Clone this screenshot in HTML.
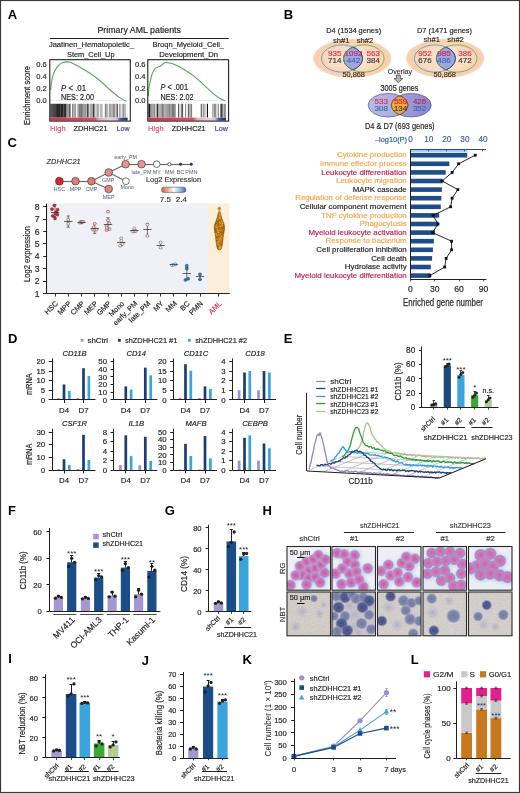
<!DOCTYPE html><html><head><meta charset="utf-8"><title>Figure</title><style>html,body{margin:0;padding:0;background:#fff;width:520px;height:793px;overflow:hidden}svg{display:block;font-family:"Liberation Sans",sans-serif}</style></head><body><svg width="520" height="793" viewBox="0 0 520 793" font-family='"Liberation Sans", sans-serif' fill="#231f20"><g style="will-change:transform"><text x="7.7" y="18.8" font-size="13" fill="#000" font-weight="bold">A</text>
<text x="139.2" y="33.2" font-size="8.6" text-anchor="middle" stroke="#231f20" stroke-width="0.18" textLength="83.6" lengthAdjust="spacingAndGlyphs">Primary AML patients</text>
<line x1="50" y1="38.5" x2="228.8" y2="38.5" stroke="#231f20" stroke-width="1.2" />
<text x="91.4" y="47.2" font-size="7.4" text-anchor="middle" fill="#262626" stroke="#262626" stroke-width="0.18" textLength="85" lengthAdjust="spacingAndGlyphs">Jaatinen_Hematopoietic_</text>
<text x="90.8" y="56.7" font-size="7.4" text-anchor="middle" fill="#262626" stroke="#262626" stroke-width="0.18" textLength="47.5" lengthAdjust="spacingAndGlyphs">Stem_Cell_Up</text>
<text x="188.3" y="47.2" font-size="7.4" text-anchor="middle" fill="#262626" stroke="#262626" stroke-width="0.18" textLength="71.5" lengthAdjust="spacingAndGlyphs">Broqn_Myeloid_Cell_</text>
<text x="188.6" y="56.7" font-size="7.4" text-anchor="middle" fill="#262626" stroke="#262626" stroke-width="0.18" textLength="58.8" lengthAdjust="spacingAndGlyphs">Development_Dn</text>
<line x1="49.8" y1="100.6" x2="128.3" y2="100.6" stroke="#d6d6d6" stroke-width="0.6" />
<rect x="50.4" y="103.8" width="0.87" height="13.8" fill="rgb(27,27,27)" />
<rect x="51.22" y="103.8" width="1.2" height="13.8" fill="rgb(54,54,54)" />
<rect x="52.37" y="103.8" width="0.83" height="13.8" fill="rgb(36,36,36)" />
<rect x="53.15" y="103.8" width="1.44" height="13.8" fill="rgb(51,51,51)" />
<rect x="54.54" y="103.8" width="0.96" height="13.8" fill="rgb(6,6,6)" />
<rect x="55.44" y="103.8" width="0.77" height="13.8" fill="rgb(18,18,18)" />
<rect x="56.17" y="103.8" width="0.94" height="13.8" fill="rgb(26,26,26)" />
<rect x="57.06" y="103.8" width="1.14" height="13.8" fill="rgb(26,26,26)" />
<rect x="58.16" y="103.8" width="0.95" height="13.8" fill="rgb(16,16,16)" />
<rect x="59.05" y="103.8" width="1.5" height="13.8" fill="rgb(24,24,24)" />
<rect x="60.51" y="103.8" width="1.64" height="13.8" fill="rgb(31,31,31)" />
<rect x="62.1" y="103.8" width="1.4" height="13.8" fill="rgb(19,19,19)" />
<rect x="63.45" y="103.8" width="1.5" height="13.8" fill="rgb(44,44,44)" />
<rect x="64.9" y="103.8" width="1.54" height="13.8" fill="rgb(44,44,44)" />
<rect x="66.39" y="103.8" width="0.78" height="13.8" fill="rgb(125,125,125)" />
<rect x="67.12" y="103.8" width="0.91" height="13.8" fill="rgb(147,147,147)" />
<rect x="67.98" y="103.8" width="1.09" height="13.8" fill="rgb(156,156,156)" />
<rect x="69.01" y="103.8" width="1.22" height="13.8" fill="rgb(92,92,92)" />
<rect x="70.18" y="103.8" width="0.79" height="13.8" fill="rgb(140,140,140)" />
<rect x="71.98" y="103.8" width="1.2" height="13.8" fill="rgb(135,135,135)" />
<rect x="73.13" y="103.8" width="1.52" height="13.8" fill="rgb(170,170,170)" />
<rect x="74.6" y="103.8" width="1.27" height="13.8" fill="rgb(136,136,136)" />
<rect x="77.38" y="103.8" width="1.46" height="13.8" fill="rgb(152,152,152)" />
<rect x="78.79" y="103.8" width="1.48" height="13.8" fill="rgb(126,126,126)" />
<rect x="80.22" y="103.8" width="0.8" height="13.8" fill="rgb(106,106,106)" />
<rect x="80.97" y="103.8" width="1.2" height="13.8" fill="rgb(119,119,119)" />
<rect x="82.12" y="103.8" width="1.23" height="13.8" fill="rgb(128,128,128)" />
<rect x="83.31" y="103.8" width="0.78" height="13.8" fill="rgb(139,139,139)" />
<rect x="84.03" y="103.8" width="1.52" height="13.8" fill="rgb(159,159,159)" />
<rect x="85.51" y="103.8" width="0.98" height="13.8" fill="rgb(97,97,97)" />
<rect x="87.15" y="103.8" width="1.43" height="13.8" fill="rgb(46,46,46)" />
<rect x="89.54" y="103.8" width="0.89" height="13.8" fill="rgb(141,141,141)" />
<rect x="90.39" y="103.8" width="1.39" height="13.8" fill="rgb(157,157,157)" />
<rect x="91.73" y="103.8" width="0.77" height="13.8" fill="rgb(135,135,135)" />
<rect x="92.45" y="103.8" width="0.85" height="13.8" fill="rgb(136,136,136)" />
<rect x="93.24" y="103.8" width="1.3" height="13.8" fill="rgb(15,15,15)" />
<rect x="94.49" y="103.8" width="0.88" height="13.8" fill="rgb(176,176,176)" />
<rect x="95.32" y="103.8" width="1.36" height="13.8" fill="rgb(198,198,198)" />
<rect x="96.63" y="103.8" width="1.47" height="13.8" fill="rgb(171,171,171)" />
<rect x="98.05" y="103.8" width="1.11" height="13.8" fill="rgb(170,170,170)" />
<rect x="99.86" y="103.8" width="1.62" height="13.8" fill="rgb(188,188,188)" />
<rect x="101.43" y="103.8" width="1.03" height="13.8" fill="rgb(153,153,153)" />
<rect x="104.83" y="103.8" width="1.49" height="13.8" fill="rgb(133,133,133)" />
<rect x="106.26" y="103.8" width="1.53" height="13.8" fill="rgb(160,160,160)" />
<rect x="108.79" y="103.8" width="0.94" height="13.8" fill="rgb(135,135,135)" />
<rect x="109.67" y="103.8" width="0.84" height="13.8" fill="rgb(159,159,159)" />
<rect x="110.46" y="103.8" width="1.04" height="13.8" fill="rgb(121,121,121)" />
<rect x="112.34" y="103.8" width="1.64" height="13.8" fill="rgb(137,137,137)" />
<rect x="113.93" y="103.8" width="1.36" height="13.8" fill="rgb(147,147,147)" />
<rect x="115.23" y="103.8" width="1.54" height="13.8" fill="rgb(198,198,198)" />
<rect x="116.73" y="103.8" width="0.96" height="13.8" fill="rgb(23,23,23)" />
<rect x="119.16" y="103.8" width="1.43" height="13.8" fill="rgb(149,149,149)" />
<rect x="121.55" y="103.8" width="1.53" height="13.8" fill="rgb(190,190,190)" />
<rect x="123.03" y="103.8" width="0.87" height="13.8" fill="rgb(123,123,123)" />
<rect x="123.85" y="103.8" width="0.82" height="13.8" fill="rgb(186,186,186)" />
<rect x="124.62" y="103.8" width="1.06" height="13.8" fill="rgb(150,150,150)" />
<rect x="127.61" y="103.8" width="0.14" height="13.8" fill="rgb(156,156,156)" />
<defs><linearGradient id="rb1" x1="0" x2="1" y1="0" y2="0"><stop offset="0" stop-color="#d8304a"/><stop offset="0.58" stop-color="#e04a62"/><stop offset="0.63" stop-color="#f2a8b8"/><stop offset="0.78" stop-color="#eed0dc"/><stop offset="0.86" stop-color="#c8c8e8"/><stop offset="0.9" stop-color="#5a5aa8"/><stop offset="1" stop-color="#1c2470"/></linearGradient></defs>
<rect x="50.3" y="117.7" width="77.3" height="3" fill="url(#rb1)" />
<path d="M50.6 90 C50.75 88.67 51.13 84.37 51.5 82 C51.87 79.63 52.22 77.72 52.8 75.8 C53.38 73.88 54.28 71.95 55 70.5 C55.72 69.05 56.35 68.08 57.1 67.1 C57.85 66.12 58.63 65.32 59.5 64.6 C60.37 63.88 61.12 63.25 62.3 62.8 C63.48 62.35 65.15 61.93 66.6 61.9 C68.05 61.87 68.83 61.73 71 62.6 C73.17 63.47 76.43 65.33 79.6 67.1 C82.77 68.87 86.53 70.88 90 73.2 C93.47 75.52 96.93 78.12 100.4 81 C103.87 83.88 107.63 87.77 110.8 90.5 C113.97 93.23 116.82 95.6 119.4 97.4 C121.98 99.2 125.15 100.65 126.3 101.3" fill="none" stroke="#4cae4c" stroke-width="1.1" />
<rect x="49.8" y="59.7" width="80.5" height="61.4" fill="none" stroke="#231f20" stroke-width="1.1" />
<text x="46.8" y="67.3" font-size="7.6" text-anchor="end" fill="#2a2a2a" stroke="#2a2a2a" stroke-width="0.18">0.6</text>
<text x="46.8" y="79" font-size="7.6" text-anchor="end" fill="#2a2a2a" stroke="#2a2a2a" stroke-width="0.18">0.4</text>
<text x="46.8" y="91.2" font-size="7.6" text-anchor="end" fill="#2a2a2a" stroke="#2a2a2a" stroke-width="0.18">0.2</text>
<text x="46.8" y="102.9" font-size="7.6" text-anchor="end" fill="#2a2a2a" stroke="#2a2a2a" stroke-width="0.18">0.0</text>
<text x="50.1" y="130.8" font-size="7.8" fill="#e0505f" stroke="#e0505f" stroke-width="0.18" textLength="15.5" lengthAdjust="spacingAndGlyphs">High</text>
<text x="90.55" y="130.8" font-size="7.8" text-anchor="middle" fill="#231f20" stroke="#231f20" stroke-width="0.18" textLength="34" lengthAdjust="spacingAndGlyphs">ZDHHC21</text>
<text x="129.5" y="130.8" font-size="7.8" text-anchor="end" fill="#3c3c8c" stroke="#3c3c8c" stroke-width="0.18" textLength="13" lengthAdjust="spacingAndGlyphs">Low</text>
<line x1="147.8" y1="100.6" x2="226.6" y2="100.6" stroke="#d6d6d6" stroke-width="0.6" />
<rect x="148.4" y="103.8" width="1.61" height="13.8" fill="rgb(19,19,19)" />
<rect x="149.96" y="103.8" width="1.5" height="13.8" fill="rgb(135,135,135)" />
<rect x="151.41" y="103.8" width="1.3" height="13.8" fill="rgb(127,127,127)" />
<rect x="152.66" y="103.8" width="1.14" height="13.8" fill="rgb(169,169,169)" />
<rect x="153.75" y="103.8" width="1.6" height="13.8" fill="rgb(133,133,133)" />
<rect x="156.03" y="103.8" width="1.17" height="13.8" fill="rgb(164,164,164)" />
<rect x="157.15" y="103.8" width="1.22" height="13.8" fill="rgb(16,16,16)" />
<rect x="158.32" y="103.8" width="1.04" height="13.8" fill="rgb(169,169,169)" />
<rect x="159.32" y="103.8" width="1.36" height="13.8" fill="rgb(159,159,159)" />
<rect x="160.62" y="103.8" width="1.41" height="13.8" fill="rgb(159,159,159)" />
<rect x="161.98" y="103.8" width="1.07" height="13.8" fill="rgb(128,128,128)" />
<rect x="163" y="103.8" width="1.43" height="13.8" fill="rgb(146,146,146)" />
<rect x="164.38" y="103.8" width="1.19" height="13.8" fill="rgb(161,161,161)" />
<rect x="165.52" y="103.8" width="1.07" height="13.8" fill="rgb(143,143,143)" />
<rect x="166.54" y="103.8" width="1.26" height="13.8" fill="rgb(144,144,144)" />
<rect x="167.75" y="103.8" width="0.95" height="13.8" fill="rgb(128,128,128)" />
<rect x="168.65" y="103.8" width="1.57" height="13.8" fill="rgb(135,135,135)" />
<rect x="170.17" y="103.8" width="1.61" height="13.8" fill="rgb(145,145,145)" />
<rect x="171.73" y="103.8" width="1.34" height="13.8" fill="rgb(126,126,126)" />
<rect x="173.02" y="103.8" width="1.21" height="13.8" fill="rgb(116,116,116)" />
<rect x="174.18" y="103.8" width="1.49" height="13.8" fill="rgb(125,125,125)" />
<rect x="178.27" y="103.8" width="0.95" height="13.8" fill="rgb(41,41,41)" />
<rect x="180.65" y="103.8" width="0.94" height="13.8" fill="rgb(167,167,167)" />
<rect x="181.54" y="103.8" width="0.78" height="13.8" fill="rgb(48,48,48)" />
<rect x="182.26" y="103.8" width="0.82" height="13.8" fill="rgb(51,51,51)" />
<rect x="185.19" y="103.8" width="0.92" height="13.8" fill="rgb(113,113,113)" />
<rect x="187.65" y="103.8" width="0.78" height="13.8" fill="rgb(169,169,169)" />
<rect x="188.38" y="103.8" width="0.85" height="13.8" fill="rgb(37,37,37)" />
<rect x="189.18" y="103.8" width="1.44" height="13.8" fill="rgb(170,170,170)" />
<rect x="190.57" y="103.8" width="1.53" height="13.8" fill="rgb(128,128,128)" />
<rect x="200.82" y="103.8" width="0.77" height="13.8" fill="rgb(17,17,17)" />
<rect x="202.27" y="103.8" width="0.84" height="13.8" fill="rgb(198,198,198)" />
<rect x="203.05" y="103.8" width="1.59" height="13.8" fill="rgb(155,155,155)" />
<rect x="204.59" y="103.8" width="0.98" height="13.8" fill="rgb(184,184,184)" />
<rect x="206.86" y="103.8" width="1.13" height="13.8" fill="rgb(16,16,16)" />
<rect x="212.05" y="103.8" width="1.22" height="13.8" fill="rgb(171,171,171)" />
<rect x="213.22" y="103.8" width="0.94" height="13.8" fill="rgb(178,178,178)" />
<rect x="214.11" y="103.8" width="1.14" height="13.8" fill="rgb(124,124,124)" />
<rect x="215.21" y="103.8" width="1.13" height="13.8" fill="rgb(127,127,127)" />
<rect x="217.7" y="103.8" width="1.22" height="13.8" fill="rgb(143,143,143)" />
<rect x="220.46" y="103.8" width="0.77" height="13.8" fill="rgb(30,30,30)" />
<rect x="221.17" y="103.8" width="1.51" height="13.8" fill="rgb(37,37,37)" />
<rect x="222.63" y="103.8" width="1.12" height="13.8" fill="rgb(167,167,167)" />
<rect x="224.47" y="103.8" width="1.09" height="13.8" fill="rgb(52,52,52)" />
<rect x="225.5" y="103.8" width="0.55" height="13.8" fill="rgb(157,157,157)" />
<defs><linearGradient id="rb2" x1="0" x2="1" y1="0" y2="0"><stop offset="0" stop-color="#d8304a"/><stop offset="0.58" stop-color="#e04a62"/><stop offset="0.63" stop-color="#f2a8b8"/><stop offset="0.78" stop-color="#eed0dc"/><stop offset="0.86" stop-color="#c8c8e8"/><stop offset="0.9" stop-color="#5a5aa8"/><stop offset="1" stop-color="#1c2470"/></linearGradient></defs>
<rect x="148.3" y="117.7" width="77.6" height="3" fill="url(#rb2)" />
<path d="M148.3 96 C148.42 94.67 148.72 90.27 149 88 C149.28 85.73 149.62 84.32 150 82.4 C150.38 80.48 150.83 78.17 151.3 76.5 C151.77 74.83 152.1 73.78 152.8 72.4 C153.5 71.02 154.28 69.22 155.5 68.2 C156.72 67.18 158.85 67 160.1 66.3 C161.35 65.6 162.08 64.67 163 64 C163.92 63.33 164.77 62.5 165.6 62.3 C166.43 62.1 166.93 62.58 168 62.8 C169.07 63.02 170.27 63.02 172 63.6 C173.73 64.18 176.12 65.15 178.4 66.3 C180.68 67.45 182.97 68.73 185.7 70.5 C188.43 72.27 191.75 74.47 194.8 76.9 C197.85 79.33 200.97 82.35 204 85.1 C207.03 87.85 210.27 91.12 213 93.4 C215.73 95.68 218.4 97.57 220.4 98.8 C222.4 100.03 224.23 100.47 225 100.8" fill="none" stroke="#4cae4c" stroke-width="1.1" />
<rect x="147.8" y="59.7" width="80.8" height="61.4" fill="none" stroke="#231f20" stroke-width="1.1" />
<text x="145.6" y="67.3" font-size="7.6" text-anchor="end" fill="#2a2a2a" stroke="#2a2a2a" stroke-width="0.18">0.6</text>
<text x="145.6" y="79" font-size="7.6" text-anchor="end" fill="#2a2a2a" stroke="#2a2a2a" stroke-width="0.18">0.4</text>
<text x="145.6" y="91.2" font-size="7.6" text-anchor="end" fill="#2a2a2a" stroke="#2a2a2a" stroke-width="0.18">0.2</text>
<text x="145.6" y="102.9" font-size="7.6" text-anchor="end" fill="#2a2a2a" stroke="#2a2a2a" stroke-width="0.18">0.0</text>
<text x="148.1" y="130.8" font-size="7.8" fill="#e0505f" stroke="#e0505f" stroke-width="0.18" textLength="15.5" lengthAdjust="spacingAndGlyphs">High</text>
<text x="188.7" y="130.8" font-size="7.8" text-anchor="middle" fill="#231f20" stroke="#231f20" stroke-width="0.18" textLength="34" lengthAdjust="spacingAndGlyphs">ZDHHC21</text>
<text x="227.8" y="130.8" font-size="7.8" text-anchor="end" fill="#3c3c8c" stroke="#3c3c8c" stroke-width="0.18" textLength="13" lengthAdjust="spacingAndGlyphs">Low</text>
<text x="61" y="90.6" font-size="8.4" stroke="#231f20" stroke-width="0.18" textLength="25" lengthAdjust="spacingAndGlyphs"><tspan font-style="italic">P</tspan> &lt; .01</text>
<text x="61" y="99.8" font-size="8.4" stroke="#231f20" stroke-width="0.18" textLength="33" lengthAdjust="spacingAndGlyphs">NES: 2.00</text>
<text x="160.5" y="90.4" font-size="8.4" stroke="#231f20" stroke-width="0.18" textLength="27.5" lengthAdjust="spacingAndGlyphs"><tspan font-style="italic">P</tspan> &lt; .001</text>
<text x="160.5" y="99.8" font-size="8.4" stroke="#231f20" stroke-width="0.18" textLength="33" lengthAdjust="spacingAndGlyphs">NES: 2.02</text>
<text x="29.98" y="95.5" font-size="9.4" text-anchor="middle" fill="#262626" stroke="#262626" stroke-width="0.18" textLength="59" lengthAdjust="spacingAndGlyphs" transform="rotate(-90 29.98 95.5)">Enrichment score</text>
<text x="283.8" y="18.8" font-size="13" fill="#000" font-weight="bold">B</text>
<text x="353.7" y="33.2" font-size="8.1" text-anchor="middle" fill="#262626" stroke="#262626" stroke-width="0.18" textLength="54.8" lengthAdjust="spacingAndGlyphs">D4 (1534 genes)</text>
<defs><radialGradient id="og"><stop offset="0" stop-color="#fce6d4"/><stop offset="0.6" stop-color="#fadcc2"/><stop offset="0.9" stop-color="#f8ceae"/><stop offset="1" stop-color="#f9d6bc"/></radialGradient></defs>
<ellipse cx="352.3" cy="58.5" rx="39.2" ry="19.5" fill="url(#og)" />
<defs><clipPath id="cl1"><ellipse cx="342" cy="58.5" rx="20.5" ry="13.6"/></clipPath></defs>
<ellipse cx="363.8" cy="58.5" rx="20.3" ry="13.6" fill="#a3a6dc" stroke="#2a3b6a" stroke-width="0.9" clip-path="url(#cl1)"/>
<ellipse cx="342" cy="58.5" rx="20.5" ry="13.6" fill="none" stroke="#4a9ab8" stroke-width="0.8" />
<ellipse cx="363.8" cy="58.5" rx="20.3" ry="13.6" fill="none" stroke="#5ba84a" stroke-width="0.8" />
<defs><clipPath id="cl1r"><ellipse cx="363.8" cy="58.5" rx="20.3" ry="13.6"/></clipPath></defs>
<ellipse cx="342" cy="58.5" rx="20.5" ry="13.6" fill="none" stroke="#2a3b6a" stroke-width="0.9" clip-path="url(#cl1r)"/>
<text x="341.2" y="43.4" font-size="7.6" text-anchor="middle" fill="#3a3020" stroke="#3a3020" stroke-width="0.18">sh#1</text>
<text x="364.9" y="43.4" font-size="7.6" text-anchor="middle" fill="#3a3020" stroke="#3a3020" stroke-width="0.18">sh#2</text>
<text x="334.8" y="55.6" font-size="8" text-anchor="middle" fill="#e0304a" stroke="#e0304a" stroke-width="0.18">935</text>
<text x="334.8" y="62.6" font-size="8" text-anchor="middle" fill="#3a3a3a" stroke="#3a3a3a" stroke-width="0.18">714</text>
<text x="353.5" y="55.6" font-size="8" text-anchor="middle" fill="#c02a5a" stroke="#c02a5a" stroke-width="0.18">1092</text>
<text x="353.5" y="62.6" font-size="8" text-anchor="middle" fill="#3a6db5" stroke="#3a6db5" stroke-width="0.18">442</text>
<text x="373.3" y="55.6" font-size="8" text-anchor="middle" fill="#e0304a" stroke="#e0304a" stroke-width="0.18">563</text>
<text x="373.3" y="62.6" font-size="8" text-anchor="middle" fill="#3a3a3a" stroke="#3a3a3a" stroke-width="0.18">384</text>
<text x="353.7" y="77.2" font-size="8" text-anchor="middle" fill="#3a3020" stroke="#3a3020" stroke-width="0.18" textLength="22.5" lengthAdjust="spacingAndGlyphs">50,868</text>
<text x="444.5" y="33.2" font-size="8.1" text-anchor="middle" fill="#262626" stroke="#262626" stroke-width="0.18" textLength="55" lengthAdjust="spacingAndGlyphs">D7 (1471 genes)</text>
<ellipse cx="445.2" cy="58.5" rx="39.2" ry="19.5" fill="url(#og)" />
<defs><clipPath id="cl2"><ellipse cx="434.9" cy="58.5" rx="20.5" ry="13.6"/></clipPath></defs>
<ellipse cx="456.7" cy="58.5" rx="20.3" ry="13.6" fill="#a3a6dc" stroke="#2a3b6a" stroke-width="0.9" clip-path="url(#cl2)"/>
<ellipse cx="434.9" cy="58.5" rx="20.5" ry="13.6" fill="none" stroke="#4a9ab8" stroke-width="0.8" />
<ellipse cx="456.7" cy="58.5" rx="20.3" ry="13.6" fill="none" stroke="#5ba84a" stroke-width="0.8" />
<defs><clipPath id="cl2r"><ellipse cx="456.7" cy="58.5" rx="20.3" ry="13.6"/></clipPath></defs>
<ellipse cx="434.9" cy="58.5" rx="20.5" ry="13.6" fill="none" stroke="#2a3b6a" stroke-width="0.9" clip-path="url(#cl2r)"/>
<text x="431.7" y="42.3" font-size="7.6" text-anchor="middle" fill="#3a3020" stroke="#3a3020" stroke-width="0.18">sh#1</text>
<text x="455.6" y="42.3" font-size="7.6" text-anchor="middle" fill="#3a3020" stroke="#3a3020" stroke-width="0.18">sh#2</text>
<text x="425" y="55.6" font-size="8" text-anchor="middle" fill="#e0304a" stroke="#e0304a" stroke-width="0.18">952</text>
<text x="425" y="62.7" font-size="8" text-anchor="middle" fill="#3a3a3a" stroke="#3a3a3a" stroke-width="0.18">676</text>
<text x="444" y="55.6" font-size="8" text-anchor="middle" fill="#c02a5a" stroke="#c02a5a" stroke-width="0.18">985</text>
<text x="444" y="62.7" font-size="8" text-anchor="middle" fill="#3a6db5" stroke="#3a6db5" stroke-width="0.18">486</text>
<text x="465" y="55.6" font-size="8" text-anchor="middle" fill="#e0304a" stroke="#e0304a" stroke-width="0.18">386</text>
<text x="465" y="62.7" font-size="8" text-anchor="middle" fill="#3a3a3a" stroke="#3a3a3a" stroke-width="0.18">472</text>
<text x="444.7" y="77.3" font-size="8" text-anchor="middle" fill="#3a3020" stroke="#3a3020" stroke-width="0.18" textLength="22.5" lengthAdjust="spacingAndGlyphs">50,868</text>
<text x="399.8" y="73.5" font-size="7.8" text-anchor="middle" fill="#3a3a3a" stroke="#3a3a3a" stroke-width="0.18" textLength="24.3" lengthAdjust="spacingAndGlyphs">Overlay</text>
<path d="M396.5 75.0 L400.29999999999995 75.0 L400.29999999999995 78.6 L402.7 78.6 L398.4 82.6 L394.09999999999997 78.6 L396.5 78.6 Z" fill="#b8b8b8" stroke="#444" stroke-width="0.8" />
<text x="399.5" y="90.6" font-size="8.2" text-anchor="middle" fill="#231f20" stroke="#231f20" stroke-width="0.18" textLength="38" lengthAdjust="spacingAndGlyphs">3005 genes</text>
<defs><linearGradient id="vl" x1="0" x2="1"><stop offset="0" stop-color="#b8bbe4"/><stop offset="1" stop-color="#a9a8de"/></linearGradient><linearGradient id="vr" x1="0" x2="1"><stop offset="0" stop-color="#aaa6de"/><stop offset="1" stop-color="#8c86cc"/></linearGradient><clipPath id="cl3"><ellipse cx="388.1" cy="105.2" rx="19.9" ry="11.8"/></clipPath></defs>
<ellipse cx="411.2" cy="105.2" rx="20" ry="11.8" fill="url(#vr)" stroke="#4a5488" stroke-width="0.7" />
<ellipse cx="388.1" cy="105.2" rx="19.9" ry="11.8" fill="url(#vl)" stroke="#4a5488" stroke-width="0.7" />
<ellipse cx="411.2" cy="105.2" rx="20" ry="11.8" fill="#f5a833" stroke="#3a3a60" stroke-width="0.8" clip-path="url(#cl3)"/>
<defs><clipPath id="cl4"><ellipse cx="411.2" cy="105.2" rx="20" ry="11.8"/></clipPath></defs>
<ellipse cx="388.1" cy="105.2" rx="19.9" ry="11.8" fill="none" stroke="#3a3a60" stroke-width="0.8" clip-path="url(#cl4)"/>
<text x="381.2" y="104.2" font-size="8" text-anchor="middle" fill="#e0304a" stroke="#e0304a" stroke-width="0.18">533</text>
<text x="381.2" y="111.3" font-size="8" text-anchor="middle" fill="#3a6db5" stroke="#3a6db5" stroke-width="0.18">308</text>
<text x="400.6" y="104.2" font-size="8" text-anchor="middle" fill="#d8204a" stroke="#d8204a" stroke-width="0.18">559</text>
<text x="400.6" y="111.3" font-size="8" text-anchor="middle" fill="#3a3a3a" stroke="#3a3a3a" stroke-width="0.18">134</text>
<text x="419.6" y="104.2" font-size="8" text-anchor="middle" fill="#c02a5a" stroke="#c02a5a" stroke-width="0.18">426</text>
<text x="419.6" y="111.3" font-size="8" text-anchor="middle" fill="#3a6db5" stroke="#3a6db5" stroke-width="0.18">352</text>
<text x="399.8" y="128.7" font-size="8.4" text-anchor="middle" stroke="#231f20" stroke-width="0.18" textLength="69.6" lengthAdjust="spacingAndGlyphs">D4 &amp; D7 (693 genes)</text>
<rect x="410.3" y="152.9" width="56.93" height="4.6" fill="#1d4e89" />
<text x="406.7" y="157.3" font-size="7.9" text-anchor="end" fill="#f2a64a" stroke="#f2a64a" stroke-width="0.18">Cytokine production</text>
<rect x="410.3" y="161.5" width="39.04" height="4.6" fill="#1d4e89" />
<text x="406.7" y="165.9" font-size="7.9" text-anchor="end" fill="#f2a64a" stroke="#f2a64a" stroke-width="0.18">Immune effector process</text>
<rect x="410.3" y="170.1" width="35.38" height="4.6" fill="#1d4e89" />
<text x="406.7" y="174.5" font-size="7.9" text-anchor="end" fill="#c0204e" stroke="#c0204e" stroke-width="0.18">Leukocyte differentiation</text>
<rect x="410.3" y="178.7" width="32.13" height="4.6" fill="#1d4e89" />
<text x="406.7" y="183.1" font-size="7.9" text-anchor="end" fill="#f2a64a" stroke="#f2a64a" stroke-width="0.18">Leukocyte migration</text>
<rect x="410.3" y="187.3" width="31.56" height="4.6" fill="#1d4e89" />
<text x="406.7" y="191.7" font-size="7.9" text-anchor="end" fill="#231f20" stroke="#231f20" stroke-width="0.18">MAPK cascade</text>
<rect x="410.3" y="195.9" width="31.07" height="4.6" fill="#1d4e89" />
<text x="406.7" y="200.3" font-size="7.9" text-anchor="end" fill="#f2a64a" stroke="#f2a64a" stroke-width="0.18">Regulation of defense response</text>
<rect x="410.3" y="204.5" width="30.5" height="4.6" fill="#1d4e89" />
<text x="406.7" y="208.9" font-size="7.9" text-anchor="end" fill="#231f20" stroke="#231f20" stroke-width="0.18">Cellular component movement</text>
<rect x="410.3" y="213.1" width="28.87" height="4.6" fill="#1d4e89" />
<text x="406.7" y="217.5" font-size="7.9" text-anchor="end" fill="#f2a64a" stroke="#f2a64a" stroke-width="0.18">TNF cytokine production</text>
<rect x="410.3" y="221.7" width="28.06" height="4.6" fill="#1d4e89" />
<text x="406.7" y="226.1" font-size="7.9" text-anchor="end" fill="#f2a64a" stroke="#f2a64a" stroke-width="0.18">Phagocytosis</text>
<rect x="410.3" y="230.3" width="24.81" height="4.6" fill="#1d4e89" />
<text x="406.7" y="234.7" font-size="7.9" text-anchor="end" fill="#c0204e" stroke="#c0204e" stroke-width="0.18">Myeloid leukocyte activation</text>
<rect x="410.3" y="238.9" width="23.59" height="4.6" fill="#1d4e89" />
<text x="406.7" y="243.3" font-size="7.9" text-anchor="end" fill="#f2a64a" stroke="#f2a64a" stroke-width="0.18">Response to bacterium</text>
<rect x="410.3" y="247.5" width="22.61" height="4.6" fill="#1d4e89" />
<text x="406.7" y="251.9" font-size="7.9" text-anchor="end" fill="#231f20" stroke="#231f20" stroke-width="0.18">Cell proliferation inhibition</text>
<rect x="410.3" y="256.1" width="21.8" height="4.6" fill="#1d4e89" />
<text x="406.7" y="260.5" font-size="7.9" text-anchor="end" fill="#231f20" stroke="#231f20" stroke-width="0.18">Cell death</text>
<rect x="410.3" y="264.7" width="20.5" height="4.6" fill="#1d4e89" />
<text x="406.7" y="269.1" font-size="7.9" text-anchor="end" fill="#231f20" stroke="#231f20" stroke-width="0.18">Hydrolase activity</text>
<rect x="410.3" y="273.3" width="20.33" height="4.6" fill="#1d4e89" />
<text x="406.7" y="277.7" font-size="7.9" text-anchor="end" fill="#c0204e" stroke="#c0204e" stroke-width="0.18">Myeloid leukocyte differentiation</text>
<path d="M475.28 155.2 L458.63 163.8 L452.11 172.4 L442.16 181 L457.9 189.6 L452.11 198.2 L450.66 206.8 L433.11 215.4 L437.99 224 L432.56 232.6 L451.57 241.2 L451.57 249.8 L446.14 258.4 L444.69 267 L429.85 275.6" fill="none" stroke="#111" stroke-width="0.9" />
<rect x="473.88" y="153.8" width="2.8" height="2.8" fill="#111" />
<rect x="457.23" y="162.4" width="2.8" height="2.8" fill="#111" />
<rect x="450.71" y="171" width="2.8" height="2.8" fill="#111" />
<rect x="440.76" y="179.6" width="2.8" height="2.8" fill="#111" />
<rect x="456.5" y="188.2" width="2.8" height="2.8" fill="#111" />
<rect x="450.71" y="196.8" width="2.8" height="2.8" fill="#111" />
<rect x="449.26" y="205.4" width="2.8" height="2.8" fill="#111" />
<rect x="431.71" y="214" width="2.8" height="2.8" fill="#111" />
<rect x="436.59" y="222.6" width="2.8" height="2.8" fill="#111" />
<rect x="431.16" y="231.2" width="2.8" height="2.8" fill="#111" />
<rect x="450.17" y="239.8" width="2.8" height="2.8" fill="#111" />
<rect x="450.17" y="248.4" width="2.8" height="2.8" fill="#111" />
<rect x="444.74" y="257" width="2.8" height="2.8" fill="#111" />
<rect x="443.29" y="265.6" width="2.8" height="2.8" fill="#111" />
<rect x="428.45" y="274.2" width="2.8" height="2.8" fill="#111" />
<rect x="410.3" y="150" width="56.93" height="2.3" fill="#a8cdf0" />
<line x1="410.3" y1="149.5" x2="486" y2="149.5" stroke="#1d4e89" stroke-width="1" />
<line x1="410.5" y1="149.6" x2="410.5" y2="151.4" stroke="#1d4e89" stroke-width="0.8" />
<text x="410.6" y="141.8" font-size="8.2" text-anchor="middle" fill="#3a68a8" stroke="#3a68a8" stroke-width="0.18">0</text>
<line x1="428.5" y1="149.6" x2="428.5" y2="151.4" stroke="#1d4e89" stroke-width="0.8" />
<text x="428.7" y="141.8" font-size="8.2" text-anchor="middle" fill="#3a68a8" stroke="#3a68a8" stroke-width="0.18">10</text>
<line x1="446.5" y1="149.6" x2="446.5" y2="151.4" stroke="#1d4e89" stroke-width="0.8" />
<text x="446.8" y="141.8" font-size="8.2" text-anchor="middle" fill="#3a68a8" stroke="#3a68a8" stroke-width="0.18">20</text>
<line x1="464.5" y1="149.6" x2="464.5" y2="151.4" stroke="#1d4e89" stroke-width="0.8" />
<text x="464.9" y="141.8" font-size="8.2" text-anchor="middle" fill="#3a68a8" stroke="#3a68a8" stroke-width="0.18">30</text>
<line x1="482.5" y1="149.6" x2="482.5" y2="151.4" stroke="#1d4e89" stroke-width="0.8" />
<text x="483" y="141.8" font-size="8.2" text-anchor="middle" fill="#3a68a8" stroke="#3a68a8" stroke-width="0.18">40</text>
<text x="407" y="141.8" font-size="8" text-anchor="end" fill="#2a5a98" stroke="#2a5a98" stroke-width="0.18" textLength="32" lengthAdjust="spacingAndGlyphs">–log10(P)</text>
<line x1="410.5" y1="149.6" x2="410.5" y2="279.3" stroke="#231f20" stroke-width="1" />
<line x1="410.3" y1="279.5" x2="486.3" y2="279.5" stroke="#231f20" stroke-width="1" />
<line x1="410.5" y1="279.3" x2="410.5" y2="281.3" stroke="#231f20" stroke-width="0.8" />
<text x="410.3" y="292.4" font-size="8.6" text-anchor="middle" fill="#262626" stroke="#262626" stroke-width="0.18">0</text>
<line x1="434.5" y1="279.3" x2="434.5" y2="281.3" stroke="#231f20" stroke-width="0.8" />
<text x="434.7" y="292.4" font-size="8.6" text-anchor="middle" fill="#262626" stroke="#262626" stroke-width="0.18">30</text>
<line x1="459.5" y1="279.3" x2="459.5" y2="281.3" stroke="#231f20" stroke-width="0.8" />
<text x="459.1" y="292.4" font-size="8.6" text-anchor="middle" fill="#262626" stroke="#262626" stroke-width="0.18">60</text>
<line x1="483.5" y1="279.3" x2="483.5" y2="281.3" stroke="#231f20" stroke-width="0.8" />
<text x="483.5" y="292.4" font-size="8.6" text-anchor="middle" fill="#262626" stroke="#262626" stroke-width="0.18">90</text>
<text x="443" y="306.3" font-size="10.6" text-anchor="middle" fill="#333" textLength="80" lengthAdjust="spacingAndGlyphs" stroke="#333" stroke-width="0.25">Enriched gene number</text>
<text x="7.4" y="147.3" font-size="13" fill="#000" font-weight="bold">C</text>
<text x="46.6" y="163.8" font-size="7.5" fill="#3a3a3a" stroke="#3a3a3a" stroke-width="0.18" font-style="italic" textLength="34" lengthAdjust="spacingAndGlyphs">ZDHHC21</text>
<line x1="59.4" y1="181.5" x2="75.5" y2="181.5" stroke="#6a6a6a" stroke-width="1.2" />
<line x1="75.5" y1="181.5" x2="91.4" y2="181.5" stroke="#6a6a6a" stroke-width="1.2" />
<line x1="91.4" y1="181.2" x2="108.7" y2="172.5" stroke="#6a6a6a" stroke-width="1.2" />
<line x1="91.4" y1="181.2" x2="108.7" y2="189" stroke="#6a6a6a" stroke-width="1.2" />
<line x1="108.7" y1="172.5" x2="125.6" y2="164.2" stroke="#6a6a6a" stroke-width="1.2" />
<line x1="108.7" y1="172.5" x2="125.9" y2="181.2" stroke="#6a6a6a" stroke-width="1.2" />
<line x1="125.6" y1="164.5" x2="141.5" y2="164.5" stroke="#6a6a6a" stroke-width="1.2" />
<line x1="141.5" y1="164.5" x2="156.7" y2="164.5" stroke="#6a6a6a" stroke-width="1.2" />
<line x1="156.7" y1="164.5" x2="169.4" y2="164.5" stroke="#6a6a6a" stroke-width="1.2" />
<line x1="169.4" y1="164.5" x2="180.6" y2="164.5" stroke="#6a6a6a" stroke-width="1.2" />
<line x1="180.6" y1="164.5" x2="191.3" y2="164.5" stroke="#6a6a6a" stroke-width="1.2" />
<circle cx="59.4" cy="181.2" r="3.9" fill="#e32222" stroke="#3a3a3a" stroke-width="0.7" />
<circle cx="75.5" cy="181.2" r="3.8" fill="#e87a7a" stroke="#3a3a3a" stroke-width="0.7" />
<circle cx="91.4" cy="181.2" r="3.8" fill="#e87474" stroke="#3a3a3a" stroke-width="0.7" />
<circle cx="108.7" cy="172.5" r="3.8" fill="#ea8a8a" stroke="#3a3a3a" stroke-width="0.7" />
<circle cx="108.7" cy="189" r="3.8" fill="#e98080" stroke="#3a3a3a" stroke-width="0.7" />
<circle cx="125.6" cy="164.2" r="3.8" fill="#ec9090" stroke="#3a3a3a" stroke-width="0.7" />
<circle cx="125.9" cy="181.2" r="3.4" fill="#ffffff" stroke="#3a3a3a" stroke-width="0.7" />
<circle cx="141.5" cy="164.2" r="3.8" fill="#ec9090" stroke="#3a3a3a" stroke-width="0.7" />
<circle cx="156.7" cy="164.2" r="3.3" fill="#ffffff" stroke="#3a3a3a" stroke-width="0.7" />
<circle cx="169.4" cy="164.2" r="1.7" fill="#f4f4f8" stroke="#3a3a3a" stroke-width="0.7" />
<circle cx="180.6" cy="164.2" r="1.2" fill="#333" stroke="#3a3a3a" stroke-width="0.7" />
<circle cx="191.3" cy="164.2" r="1.2" fill="#333" stroke="#3a3a3a" stroke-width="0.7" />
<text x="59.4" y="190.9" font-size="5.4" text-anchor="middle" fill="#52607e" stroke="none">HSC</text>
<text x="75.5" y="190.9" font-size="5.4" text-anchor="middle" fill="#52607e" stroke="none">MPP</text>
<text x="91.4" y="190.9" font-size="5.4" text-anchor="middle" fill="#52607e" stroke="none">CMP</text>
<text x="108.2" y="181.6" font-size="5.4" text-anchor="middle" fill="#52607e" stroke="none">GMP</text>
<text x="108.7" y="198.5" font-size="5.4" text-anchor="middle" fill="#52607e" stroke="none">MEP</text>
<text x="127.3" y="188.6" font-size="5.4" text-anchor="middle" fill="#52607e" stroke="none">Mono</text>
<text x="125.6" y="158.8" font-size="5.4" text-anchor="middle" fill="#52607e" stroke="none">early_PM</text>
<text x="141.5" y="173.5" font-size="5.4" text-anchor="middle" fill="#52607e" stroke="none">late_PM</text>
<text x="156.7" y="173.5" font-size="5.4" text-anchor="middle" fill="#52607e" stroke="none">MY</text>
<text x="169.4" y="173.5" font-size="5.4" text-anchor="middle" fill="#52607e" stroke="none">MM</text>
<text x="180.6" y="173.5" font-size="5.4" text-anchor="middle" fill="#52607e" stroke="none">BC</text>
<text x="191.3" y="173.5" font-size="5.4" text-anchor="middle" fill="#52607e" stroke="none">PMN</text>
<text x="173.5" y="181.5" font-size="8" text-anchor="middle" fill="#3a3a3a" stroke="#3a3a3a" stroke-width="0.18" textLength="55" lengthAdjust="spacingAndGlyphs">Log2 Expression</text>
<defs><linearGradient id="lg2" x1="0" x2="1"><stop offset="0" stop-color="#e0603a"/><stop offset="0.25" stop-color="#f0a890"/><stop offset="0.5" stop-color="#ffffff"/><stop offset="0.75" stop-color="#9cc4e8"/><stop offset="1" stop-color="#2f6eb8"/></linearGradient></defs>
<rect x="161.6" y="187.2" width="24.2" height="5.2" fill="url(#lg2)" stroke="#555" stroke-width="0.6" rx="2.2"/>
<text x="165.4" y="202" font-size="8" text-anchor="middle" fill="#3a3a3a" stroke="#3a3a3a" stroke-width="0.18">7.5</text>
<text x="181.4" y="202" font-size="8" text-anchor="middle" fill="#3a3a3a" stroke="#3a3a3a" stroke-width="0.18">2.4</text>
<rect x="47" y="203.5" width="161" height="90.1" fill="#f0f0f7" />
<rect x="208" y="203.5" width="21.5" height="90.1" fill="#fdeed9" />
<line x1="55" y1="219.7" x2="55" y2="204.8" stroke="#3a3a3a" stroke-width="0.7" />
<line x1="53.4" y1="204.8" x2="56.6" y2="204.8" stroke="#3a3a3a" stroke-width="0.7" />
<line x1="53.4" y1="219.7" x2="56.6" y2="219.7" stroke="#3a3a3a" stroke-width="0.7" />
<circle cx="55" cy="217.84" r="1.45" fill="#c4303a" stroke="#7a1a20" stroke-width="0.55" />
<circle cx="52.8" cy="215.98" r="1.45" fill="#c4303a" stroke="#7a1a20" stroke-width="0.55" />
<circle cx="57.4" cy="214.73" r="1.45" fill="#c4303a" stroke="#7a1a20" stroke-width="0.55" />
<circle cx="52" cy="209.14" r="1.45" fill="#c4303a" stroke="#7a1a20" stroke-width="0.55" />
<circle cx="56.2" cy="212.25" r="1.45" fill="#c4303a" stroke="#7a1a20" stroke-width="0.55" />
<circle cx="54.2" cy="205.42" r="1.45" fill="#c4303a" stroke="#7a1a20" stroke-width="0.55" />
<circle cx="57.6" cy="209.77" r="1.45" fill="#c4303a" stroke="#7a1a20" stroke-width="0.55" />
<circle cx="55.3" cy="213.49" r="1.45" fill="#c4303a" stroke="#7a1a20" stroke-width="0.55" />
<line x1="50.8" y1="212.5" x2="59.2" y2="212.5" stroke="#3a3a3a" stroke-width="0.8" />
<line x1="68.2" y1="227.15" x2="68.2" y2="215.98" stroke="#3a3a3a" stroke-width="0.7" />
<line x1="66.6" y1="215.98" x2="69.8" y2="215.98" stroke="#3a3a3a" stroke-width="0.7" />
<line x1="66.6" y1="227.15" x2="69.8" y2="227.15" stroke="#3a3a3a" stroke-width="0.7" />
<circle cx="68.2" cy="223.8" r="1.45" fill="#f0e0e0" stroke="#6a4a4a" stroke-width="0.55" />
<circle cx="68.2" cy="219.7" r="1.45" fill="#f0e0e0" stroke="#6a4a4a" stroke-width="0.55" />
<line x1="64" y1="221.5" x2="72.4" y2="221.5" stroke="#3a3a3a" stroke-width="0.8" />
<line x1="81.5" y1="223.68" x2="81.5" y2="220.69" stroke="#3a3a3a" stroke-width="0.7" />
<line x1="79.9" y1="220.69" x2="83.1" y2="220.69" stroke="#3a3a3a" stroke-width="0.7" />
<line x1="79.9" y1="223.68" x2="83.1" y2="223.68" stroke="#3a3a3a" stroke-width="0.7" />
<circle cx="79.9" cy="222.56" r="1.45" fill="#e8c8c8" stroke="#8a3a3a" stroke-width="0.55" />
<circle cx="81.5" cy="222.06" r="1.45" fill="#e8c8c8" stroke="#8a3a3a" stroke-width="0.55" />
<circle cx="83.1" cy="221.81" r="1.45" fill="#e8c8c8" stroke="#8a3a3a" stroke-width="0.55" />
<line x1="77.3" y1="222.5" x2="85.7" y2="222.5" stroke="#3a3a3a" stroke-width="0.8" />
<line x1="94.7" y1="233.36" x2="94.7" y2="223.43" stroke="#3a3a3a" stroke-width="0.7" />
<line x1="93.1" y1="223.43" x2="96.3" y2="223.43" stroke="#3a3a3a" stroke-width="0.7" />
<line x1="93.1" y1="233.36" x2="96.3" y2="233.36" stroke="#3a3a3a" stroke-width="0.7" />
<circle cx="92.9" cy="229.64" r="1.45" fill="#ecd2d2" stroke="#8a4a4a" stroke-width="0.55" />
<circle cx="94.7" cy="229.64" r="1.45" fill="#ecd2d2" stroke="#8a4a4a" stroke-width="0.55" />
<circle cx="96.5" cy="229.64" r="1.45" fill="#ecd2d2" stroke="#8a4a4a" stroke-width="0.55" />
<circle cx="94.7" cy="223.8" r="1.45" fill="#ecd2d2" stroke="#8a4a4a" stroke-width="0.55" />
<circle cx="93.7" cy="227.15" r="1.45" fill="#ecd2d2" stroke="#8a4a4a" stroke-width="0.55" />
<line x1="90.5" y1="228.5" x2="98.9" y2="228.5" stroke="#3a3a3a" stroke-width="0.8" />
<line x1="108" y1="230.26" x2="108" y2="217.84" stroke="#3a3a3a" stroke-width="0.7" />
<line x1="106.4" y1="217.84" x2="109.6" y2="217.84" stroke="#3a3a3a" stroke-width="0.7" />
<line x1="106.4" y1="230.26" x2="109.6" y2="230.26" stroke="#3a3a3a" stroke-width="0.7" />
<circle cx="106.5" cy="230.26" r="1.45" fill="#ecd0d0" stroke="#8a4a4a" stroke-width="0.55" />
<circle cx="109.5" cy="229.02" r="1.45" fill="#ecd0d0" stroke="#8a4a4a" stroke-width="0.55" />
<circle cx="106.5" cy="225.91" r="1.45" fill="#ecd0d0" stroke="#8a4a4a" stroke-width="0.55" />
<circle cx="109.4" cy="223.43" r="1.45" fill="#ecd0d0" stroke="#8a4a4a" stroke-width="0.55" />
<circle cx="108" cy="220.32" r="1.45" fill="#ecd0d0" stroke="#8a4a4a" stroke-width="0.55" />
<circle cx="108" cy="211.63" r="1.45" fill="#ecd0d0" stroke="#8a4a4a" stroke-width="0.55" />
<circle cx="106.7" cy="227.77" r="1.45" fill="#ecd0d0" stroke="#8a4a4a" stroke-width="0.55" />
<line x1="103.8" y1="224.5" x2="112.2" y2="224.5" stroke="#3a3a3a" stroke-width="0.8" />
<line x1="121.3" y1="245.78" x2="121.3" y2="238.33" stroke="#3a3a3a" stroke-width="0.7" />
<line x1="119.7" y1="238.33" x2="122.9" y2="238.33" stroke="#3a3a3a" stroke-width="0.7" />
<line x1="119.7" y1="245.78" x2="122.9" y2="245.78" stroke="#3a3a3a" stroke-width="0.7" />
<circle cx="120.1" cy="245.78" r="1.45" fill="#f6f0f0" stroke="#6a5a5a" stroke-width="0.55" />
<circle cx="122.5" cy="243.92" r="1.45" fill="#f6f0f0" stroke="#6a5a5a" stroke-width="0.55" />
<circle cx="121.3" cy="238.33" r="1.45" fill="#f6f0f0" stroke="#6a5a5a" stroke-width="0.55" />
<circle cx="121.3" cy="240.82" r="1.45" fill="#f6f0f0" stroke="#6a5a5a" stroke-width="0.55" />
<line x1="117.1" y1="242.5" x2="125.5" y2="242.5" stroke="#3a3a3a" stroke-width="0.8" />
<line x1="134.3" y1="232.12" x2="134.3" y2="229.64" stroke="#3a3a3a" stroke-width="0.7" />
<line x1="132.7" y1="229.64" x2="135.9" y2="229.64" stroke="#3a3a3a" stroke-width="0.7" />
<line x1="132.7" y1="232.12" x2="135.9" y2="232.12" stroke="#3a3a3a" stroke-width="0.7" />
<circle cx="132.7" cy="231.5" r="1.45" fill="#f6e8e8" stroke="#7a5a5a" stroke-width="0.55" />
<circle cx="134.3" cy="230.88" r="1.45" fill="#f6e8e8" stroke="#7a5a5a" stroke-width="0.55" />
<circle cx="135.9" cy="230.88" r="1.45" fill="#f6e8e8" stroke="#7a5a5a" stroke-width="0.55" />
<circle cx="134.3" cy="228.4" r="1.45" fill="#f6e8e8" stroke="#7a5a5a" stroke-width="0.55" />
<line x1="130.1" y1="230.5" x2="138.5" y2="230.5" stroke="#3a3a3a" stroke-width="0.8" />
<line x1="147.4" y1="235.85" x2="147.4" y2="223.43" stroke="#3a3a3a" stroke-width="0.7" />
<line x1="145.8" y1="223.43" x2="149" y2="223.43" stroke="#3a3a3a" stroke-width="0.7" />
<line x1="145.8" y1="235.85" x2="149" y2="235.85" stroke="#3a3a3a" stroke-width="0.7" />
<circle cx="147.4" cy="235.85" r="1.45" fill="#f6eaea" stroke="#6a5a5a" stroke-width="0.55" />
<circle cx="147.4" cy="224.67" r="1.45" fill="#f6eaea" stroke="#6a5a5a" stroke-width="0.55" />
<line x1="143.2" y1="229.5" x2="151.6" y2="229.5" stroke="#3a3a3a" stroke-width="0.8" />
<line x1="160.6" y1="248.27" x2="160.6" y2="242.06" stroke="#3a3a3a" stroke-width="0.7" />
<line x1="159" y1="242.06" x2="162.2" y2="242.06" stroke="#3a3a3a" stroke-width="0.7" />
<line x1="159" y1="248.27" x2="162.2" y2="248.27" stroke="#3a3a3a" stroke-width="0.7" />
<circle cx="160.6" cy="247.65" r="1.45" fill="#f8f8f8" stroke="#5a5a5a" stroke-width="0.55" />
<circle cx="160.6" cy="242.43" r="1.45" fill="#f8f8f8" stroke="#5a5a5a" stroke-width="0.55" />
<line x1="156.4" y1="245.5" x2="164.8" y2="245.5" stroke="#3a3a3a" stroke-width="0.8" />
<circle cx="172.1" cy="265.28" r="1.45" fill="#d8e4f0" stroke="#3a6898" stroke-width="0.55" />
<circle cx="173.8" cy="264.79" r="1.45" fill="#d8e4f0" stroke="#3a6898" stroke-width="0.55" />
<circle cx="175.5" cy="264.29" r="1.45" fill="#d8e4f0" stroke="#3a6898" stroke-width="0.55" />
<line x1="169.6" y1="264.5" x2="178" y2="264.5" stroke="#3a3a3a" stroke-width="0.8" />
<line x1="186.8" y1="279.94" x2="186.8" y2="267.52" stroke="#3a3a3a" stroke-width="0.7" />
<line x1="185.2" y1="267.52" x2="188.4" y2="267.52" stroke="#3a3a3a" stroke-width="0.7" />
<line x1="185.2" y1="279.94" x2="188.4" y2="279.94" stroke="#3a3a3a" stroke-width="0.7" />
<circle cx="185.4" cy="279.94" r="1.45" fill="#3a78a8" stroke="#1e4e78" stroke-width="0.55" />
<circle cx="188.2" cy="278.7" r="1.45" fill="#3a78a8" stroke="#1e4e78" stroke-width="0.55" />
<circle cx="186.8" cy="268.76" r="1.45" fill="#3a78a8" stroke="#1e4e78" stroke-width="0.55" />
<circle cx="186.8" cy="265.66" r="1.45" fill="#3a78a8" stroke="#1e4e78" stroke-width="0.55" />
<line x1="182.6" y1="273.5" x2="191" y2="273.5" stroke="#3a3a3a" stroke-width="0.8" />
<line x1="200" y1="279.94" x2="200" y2="273.73" stroke="#3a3a3a" stroke-width="0.7" />
<line x1="198.4" y1="273.73" x2="201.6" y2="273.73" stroke="#3a3a3a" stroke-width="0.7" />
<line x1="198.4" y1="279.94" x2="201.6" y2="279.94" stroke="#3a3a3a" stroke-width="0.7" />
<circle cx="200" cy="279.32" r="1.45" fill="#3a78a8" stroke="#1e4e78" stroke-width="0.55" />
<circle cx="200" cy="274.35" r="1.45" fill="#3a78a8" stroke="#1e4e78" stroke-width="0.55" />
<line x1="195.8" y1="276.5" x2="204.2" y2="276.5" stroke="#3a3a3a" stroke-width="0.8" />
<path d="M218.4 212.3 L217.9 215 L217.1 218 L216 221 L214.8 224 L214.2 227 L214.4 230 L215 233 L215.5 236 L215.8 239 L216.1 242 L216.6 245 L217.2 248 L218.2 249.8 L220.6 249.8 L221.6 248 L222.2 245 L222.7 242 L223 239 L223.3 236 L223.8 233 L224.4 230 L224.6 227 L224 224 L222.8 221 L221.7 218 L220.9 215 L220.4 212.3" fill="#9c6814" stroke="#7a4c10" stroke-width="0.6" stroke-linejoin="round"/>
<circle cx="219.4" cy="208.5" r="1.3" fill="#b88430" stroke="#7a5a20" stroke-width="0.4" />
<circle cx="219.4" cy="211.3" r="1" fill="#b88430" />
<circle cx="220.9" cy="235.42" r="0.62" fill="#c88418" />
<circle cx="220.13" cy="246.93" r="0.62" fill="#c88418" />
<circle cx="219.37" cy="214.04" r="0.62" fill="#c88418" />
<circle cx="221.78" cy="236.36" r="0.62" fill="#f0a024" />
<circle cx="217.32" cy="229.89" r="0.62" fill="#f0a024" />
<circle cx="216.1" cy="233.66" r="0.62" fill="#f0a024" />
<circle cx="222.17" cy="223.06" r="0.62" fill="#c88418" />
<circle cx="220.39" cy="218.75" r="0.62" fill="#f0a024" />
<circle cx="217.06" cy="235.23" r="0.62" fill="#f0a024" />
<circle cx="218.23" cy="244.37" r="0.62" fill="#f0a024" />
<circle cx="220.22" cy="248.37" r="0.62" fill="#f0a024" />
<circle cx="219.51" cy="247.61" r="0.62" fill="#c88418" />
<circle cx="221.4" cy="220.37" r="0.62" fill="#c88418" />
<circle cx="220.46" cy="247.8" r="0.62" fill="#f0a024" />
<circle cx="216.66" cy="226" r="0.62" fill="#f0a024" />
<circle cx="219.13" cy="215.35" r="0.62" fill="#c88418" />
<circle cx="219.49" cy="213.12" r="0.62" fill="#f0a024" />
<circle cx="221.78" cy="224.16" r="0.62" fill="#f0a024" />
<circle cx="219.26" cy="224.37" r="0.62" fill="#c88418" />
<circle cx="219.98" cy="215.05" r="0.62" fill="#f0a024" />
<circle cx="221.19" cy="239.99" r="0.62" fill="#f0a024" />
<circle cx="218.74" cy="241.36" r="0.62" fill="#f0a024" />
<circle cx="219.14" cy="213.33" r="0.62" fill="#f0a024" />
<circle cx="218.54" cy="247.39" r="0.62" fill="#c88418" />
<circle cx="220.82" cy="246.47" r="0.62" fill="#f0a024" />
<circle cx="219.6" cy="225.77" r="0.62" fill="#c88418" />
<circle cx="219.95" cy="216.89" r="0.62" fill="#c88418" />
<circle cx="217.48" cy="243.95" r="0.62" fill="#c88418" />
<circle cx="219.1" cy="216.28" r="0.62" fill="#c88418" />
<circle cx="218.86" cy="246.05" r="0.62" fill="#c88418" />
<circle cx="218.06" cy="232.63" r="0.62" fill="#f0a024" />
<circle cx="217.79" cy="219.39" r="0.62" fill="#f0a024" />
<circle cx="222.2" cy="237.81" r="0.62" fill="#f0a024" />
<circle cx="219.94" cy="214.75" r="0.62" fill="#f0a024" />
<circle cx="217.16" cy="227.61" r="0.62" fill="#f0a024" />
<circle cx="219.2" cy="242.75" r="0.62" fill="#f0a024" />
<circle cx="219.9" cy="215.01" r="0.62" fill="#f0a024" />
<circle cx="222.07" cy="230.77" r="0.62" fill="#f0a024" />
<circle cx="221.8" cy="239.34" r="0.62" fill="#c88418" />
<circle cx="217.46" cy="241.37" r="0.62" fill="#f0a024" />
<circle cx="220.46" cy="218.37" r="0.62" fill="#f0a024" />
<circle cx="223.54" cy="229.31" r="0.62" fill="#c88418" />
<circle cx="219.29" cy="248.14" r="0.62" fill="#f0a024" />
<circle cx="219.29" cy="239.26" r="0.62" fill="#f0a024" />
<circle cx="216.39" cy="227.54" r="0.62" fill="#f0a024" />
<circle cx="220.3" cy="248.58" r="0.62" fill="#c88418" />
<circle cx="218.14" cy="230.98" r="0.62" fill="#f0a024" />
<circle cx="221.22" cy="222.8" r="0.62" fill="#c88418" />
<circle cx="221.75" cy="226.01" r="0.62" fill="#c88418" />
<circle cx="220.32" cy="238.01" r="0.62" fill="#c88418" />
<circle cx="221.08" cy="226.08" r="0.62" fill="#f0a024" />
<circle cx="221.56" cy="230.48" r="0.62" fill="#c88418" />
<circle cx="222.55" cy="223.58" r="0.62" fill="#c88418" />
<circle cx="216.13" cy="233.9" r="0.62" fill="#f0a024" />
<circle cx="220.4" cy="222.02" r="0.62" fill="#f0a024" />
<circle cx="220.09" cy="242.4" r="0.62" fill="#c88418" />
<circle cx="220.55" cy="225.52" r="0.62" fill="#c88418" />
<circle cx="218.72" cy="242.81" r="0.62" fill="#c88418" />
<circle cx="220.16" cy="244.32" r="0.62" fill="#c88418" />
<circle cx="219.45" cy="247.43" r="0.62" fill="#f0a024" />
<circle cx="220.59" cy="218.98" r="0.62" fill="#c88418" />
<circle cx="220.96" cy="230.18" r="0.62" fill="#c88418" />
<circle cx="217.65" cy="239.29" r="0.62" fill="#c88418" />
<circle cx="220.51" cy="233.91" r="0.62" fill="#f0a024" />
<circle cx="221.1" cy="235.45" r="0.62" fill="#c88418" />
<circle cx="216.84" cy="238.93" r="0.62" fill="#f0a024" />
<circle cx="220.65" cy="228.88" r="0.62" fill="#f0a024" />
<circle cx="220.14" cy="237.69" r="0.62" fill="#f0a024" />
<circle cx="217.15" cy="229.98" r="0.62" fill="#f0a024" />
<circle cx="218.91" cy="217.81" r="0.62" fill="#f0a024" />
<circle cx="217.43" cy="219.96" r="0.62" fill="#f0a024" />
<circle cx="220.35" cy="226.69" r="0.62" fill="#f0a024" />
<circle cx="221.6" cy="221.56" r="0.62" fill="#f0a024" />
<circle cx="217.51" cy="227.59" r="0.62" fill="#f0a024" />
<circle cx="220.18" cy="217.14" r="0.62" fill="#f0a024" />
<circle cx="219.51" cy="214.3" r="0.62" fill="#f0a024" />
<circle cx="218.25" cy="232.63" r="0.62" fill="#f0a024" />
<circle cx="220.29" cy="247.5" r="0.62" fill="#f0a024" />
<circle cx="220.07" cy="242.27" r="0.62" fill="#f0a024" />
<circle cx="219.68" cy="218.12" r="0.62" fill="#f0a024" />
<circle cx="220.72" cy="247.46" r="0.62" fill="#c88418" />
<circle cx="222.57" cy="225.64" r="0.62" fill="#f0a024" />
<circle cx="219.55" cy="216.89" r="0.62" fill="#c88418" />
<circle cx="219.77" cy="218.07" r="0.62" fill="#c88418" />
<circle cx="218.83" cy="226.53" r="0.62" fill="#f0a024" />
<circle cx="222.7" cy="223.49" r="0.62" fill="#f0a024" />
<circle cx="220.54" cy="247.6" r="0.62" fill="#f0a024" />
<circle cx="222.33" cy="222.35" r="0.62" fill="#f0a024" />
<circle cx="217.87" cy="227.96" r="0.62" fill="#c88418" />
<circle cx="217.71" cy="230.7" r="0.62" fill="#f0a024" />
<circle cx="219.7" cy="217.39" r="0.62" fill="#f0a024" />
<circle cx="221.38" cy="223.55" r="0.62" fill="#c88418" />
<circle cx="219.42" cy="213.48" r="0.62" fill="#f0a024" />
<circle cx="220.28" cy="246.67" r="0.62" fill="#f0a024" />
<circle cx="217.22" cy="222.64" r="0.62" fill="#c88418" />
<circle cx="220.16" cy="223.55" r="0.62" fill="#f0a024" />
<circle cx="220.02" cy="236.22" r="0.62" fill="#c88418" />
<circle cx="220.03" cy="217.25" r="0.62" fill="#f0a024" />
<circle cx="218.2" cy="232.21" r="0.62" fill="#f0a024" />
<circle cx="219.14" cy="232.08" r="0.62" fill="#f0a024" />
<circle cx="219.88" cy="239.82" r="0.62" fill="#f0a024" />
<circle cx="219.14" cy="222.09" r="0.62" fill="#c88418" />
<circle cx="219.57" cy="244.97" r="0.62" fill="#f0a024" />
<circle cx="219.04" cy="241.02" r="0.62" fill="#f0a024" />
<circle cx="220.13" cy="238.49" r="0.62" fill="#f0a024" />
<circle cx="219" cy="245.82" r="0.62" fill="#f0a024" />
<circle cx="218.11" cy="243.67" r="0.62" fill="#f0a024" />
<circle cx="217.44" cy="242.88" r="0.62" fill="#c88418" />
<circle cx="219.02" cy="238.01" r="0.62" fill="#f0a024" />
<circle cx="221.44" cy="241.11" r="0.62" fill="#f0a024" />
<circle cx="219.8" cy="230.22" r="0.62" fill="#f0a024" />
<circle cx="216.71" cy="224.91" r="0.62" fill="#f0a024" />
<circle cx="217.36" cy="242.23" r="0.62" fill="#f0a024" />
<circle cx="220.75" cy="242.51" r="0.62" fill="#c88418" />
<circle cx="219.58" cy="213.92" r="0.62" fill="#c88418" />
<circle cx="219.71" cy="248.94" r="0.62" fill="#f0a024" />
<circle cx="218.18" cy="243.31" r="0.62" fill="#c88418" />
<circle cx="220.01" cy="247.28" r="0.62" fill="#f0a024" />
<circle cx="222.34" cy="223.53" r="0.62" fill="#f0a024" />
<circle cx="218.85" cy="234.98" r="0.62" fill="#f0a024" />
<circle cx="216.57" cy="235.41" r="0.62" fill="#f0a024" />
<circle cx="215.78" cy="226.65" r="0.62" fill="#f0a024" />
<circle cx="221.04" cy="233.71" r="0.62" fill="#c88418" />
<circle cx="219.21" cy="217.84" r="0.62" fill="#f0a024" />
<circle cx="219.33" cy="234.61" r="0.62" fill="#c88418" />
<circle cx="215.67" cy="226.47" r="0.62" fill="#c88418" />
<circle cx="219.81" cy="218.44" r="0.62" fill="#f0a024" />
<circle cx="219.59" cy="245.78" r="0.62" fill="#c88418" />
<circle cx="219.72" cy="222.48" r="0.62" fill="#f0a024" />
<circle cx="219.49" cy="240.02" r="0.62" fill="#f0a024" />
<line x1="46.5" y1="203.6" x2="46.5" y2="293.6" stroke="#231f20" stroke-width="1.1" />
<line x1="46.4" y1="293.5" x2="229.8" y2="293.5" stroke="#231f20" stroke-width="1.1" />
<line x1="43.2" y1="293.5" x2="46.4" y2="293.5" stroke="#231f20" stroke-width="1" />
<text x="39.6" y="296.6" font-size="8.6" text-anchor="end" fill="#262626" stroke="#262626" stroke-width="0.18">1</text>
<line x1="43.2" y1="281.5" x2="46.4" y2="281.5" stroke="#231f20" stroke-width="1" />
<text x="39.6" y="284.18" font-size="8.6" text-anchor="end" fill="#262626" stroke="#262626" stroke-width="0.18">2</text>
<line x1="43.2" y1="268.5" x2="46.4" y2="268.5" stroke="#231f20" stroke-width="1" />
<text x="39.6" y="271.76" font-size="8.6" text-anchor="end" fill="#262626" stroke="#262626" stroke-width="0.18">3</text>
<line x1="43.2" y1="256.5" x2="46.4" y2="256.5" stroke="#231f20" stroke-width="1" />
<text x="39.6" y="259.34" font-size="8.6" text-anchor="end" fill="#262626" stroke="#262626" stroke-width="0.18">4</text>
<line x1="43.2" y1="243.5" x2="46.4" y2="243.5" stroke="#231f20" stroke-width="1" />
<text x="39.6" y="246.92" font-size="8.6" text-anchor="end" fill="#262626" stroke="#262626" stroke-width="0.18">5</text>
<line x1="43.2" y1="231.5" x2="46.4" y2="231.5" stroke="#231f20" stroke-width="1" />
<text x="39.6" y="234.5" font-size="8.6" text-anchor="end" fill="#262626" stroke="#262626" stroke-width="0.18">6</text>
<line x1="43.2" y1="219.5" x2="46.4" y2="219.5" stroke="#231f20" stroke-width="1" />
<text x="39.6" y="222.08" font-size="8.6" text-anchor="end" fill="#262626" stroke="#262626" stroke-width="0.18">7</text>
<line x1="43.2" y1="206.5" x2="46.4" y2="206.5" stroke="#231f20" stroke-width="1" />
<text x="39.6" y="209.66" font-size="8.6" text-anchor="end" fill="#262626" stroke="#262626" stroke-width="0.18">8</text>
<line x1="55.5" y1="293.6" x2="55.5" y2="296.6" stroke="#231f20" stroke-width="0.9" />
<text x="58.4" y="304" font-size="7.3" text-anchor="end" fill="#262626" stroke="#262626" stroke-width="0.18" transform="rotate(-45 58.4 304)">HSC</text>
<line x1="68.5" y1="293.6" x2="68.5" y2="296.6" stroke="#231f20" stroke-width="0.9" />
<text x="71.6" y="304" font-size="7.3" text-anchor="end" fill="#262626" stroke="#262626" stroke-width="0.18" transform="rotate(-45 71.6 304)">MPP</text>
<line x1="81.5" y1="293.6" x2="81.5" y2="296.6" stroke="#231f20" stroke-width="0.9" />
<text x="84.9" y="304" font-size="7.3" text-anchor="end" fill="#262626" stroke="#262626" stroke-width="0.18" transform="rotate(-45 84.9 304)">CMP</text>
<line x1="94.5" y1="293.6" x2="94.5" y2="296.6" stroke="#231f20" stroke-width="0.9" />
<text x="98.1" y="304" font-size="7.3" text-anchor="end" fill="#262626" stroke="#262626" stroke-width="0.18" transform="rotate(-45 98.1 304)">MEP</text>
<line x1="108.5" y1="293.6" x2="108.5" y2="296.6" stroke="#231f20" stroke-width="0.9" />
<text x="111.4" y="304" font-size="7.3" text-anchor="end" fill="#262626" stroke="#262626" stroke-width="0.18" transform="rotate(-45 111.4 304)">GMP</text>
<line x1="121.5" y1="293.6" x2="121.5" y2="296.6" stroke="#231f20" stroke-width="0.9" />
<text x="124.7" y="304" font-size="7.3" text-anchor="end" fill="#262626" stroke="#262626" stroke-width="0.18" transform="rotate(-45 124.7 304)">Mono</text>
<line x1="134.5" y1="293.6" x2="134.5" y2="296.6" stroke="#231f20" stroke-width="0.9" />
<text x="137.7" y="304" font-size="7.3" text-anchor="end" fill="#262626" stroke="#262626" stroke-width="0.18" transform="rotate(-45 137.7 304)">early_PM</text>
<line x1="147.5" y1="293.6" x2="147.5" y2="296.6" stroke="#231f20" stroke-width="0.9" />
<text x="150.8" y="304" font-size="7.3" text-anchor="end" fill="#262626" stroke="#262626" stroke-width="0.18" transform="rotate(-45 150.8 304)">late_PM</text>
<line x1="160.5" y1="293.6" x2="160.5" y2="296.6" stroke="#231f20" stroke-width="0.9" />
<text x="164" y="304" font-size="7.3" text-anchor="end" fill="#262626" stroke="#262626" stroke-width="0.18" transform="rotate(-45 164 304)">MY</text>
<line x1="173.5" y1="293.6" x2="173.5" y2="296.6" stroke="#231f20" stroke-width="0.9" />
<text x="177.2" y="304" font-size="7.3" text-anchor="end" fill="#262626" stroke="#262626" stroke-width="0.18" transform="rotate(-45 177.2 304)">MM</text>
<line x1="186.5" y1="293.6" x2="186.5" y2="296.6" stroke="#231f20" stroke-width="0.9" />
<text x="190.2" y="304" font-size="7.3" text-anchor="end" fill="#262626" stroke="#262626" stroke-width="0.18" transform="rotate(-45 190.2 304)">BC</text>
<line x1="200.5" y1="293.6" x2="200.5" y2="296.6" stroke="#231f20" stroke-width="0.9" />
<text x="203.4" y="304" font-size="7.3" text-anchor="end" fill="#262626" stroke="#262626" stroke-width="0.18" transform="rotate(-45 203.4 304)">PMN</text>
<line x1="218.5" y1="293.6" x2="218.5" y2="296.6" stroke="#231f20" stroke-width="0.9" />
<text x="222.2" y="304" font-size="7.3" text-anchor="end" fill="#e03050" stroke="#e03050" stroke-width="0.18" transform="rotate(-45 222.2 304)">AML</text>
<text x="29.86" y="254" font-size="9.6" text-anchor="middle" fill="#262626" stroke="#262626" stroke-width="0.18" textLength="56" lengthAdjust="spacingAndGlyphs" transform="rotate(-90 29.86 254)">Log2 expression</text>
<text x="8" y="343" font-size="13" fill="#000" font-weight="bold">D</text>
<rect x="80.7" y="338.9" width="2.8" height="2.8" fill="#9d91c9" />
<text x="87.5" y="342.6" font-size="7.8" fill="#262626" stroke="#262626" stroke-width="0.18" textLength="20.5" lengthAdjust="spacingAndGlyphs">shCtrl</text>
<rect x="118" y="338.9" width="2.8" height="2.8" fill="#1b3e70" />
<text x="125" y="342.6" font-size="7.8" fill="#262626" stroke="#262626" stroke-width="0.18" textLength="52.3" lengthAdjust="spacingAndGlyphs">shZDHHC21 #1</text>
<rect x="188" y="338.9" width="2.8" height="2.8" fill="#3ba4dc" />
<text x="195.2" y="342.6" font-size="7.8" fill="#262626" stroke="#262626" stroke-width="0.18" textLength="51.8" lengthAdjust="spacingAndGlyphs">shZDHHC21 #2</text>
<rect x="57.25" y="398.08" width="2.7" height="1.72" fill="#9d91c9" />
<rect x="62.65" y="384.48" width="2.7" height="15.32" fill="#1b3e70" />
<rect x="67.95" y="390.8" width="2.7" height="9" fill="#3ba4dc" />
<rect x="76.65" y="398.08" width="2.7" height="1.72" fill="#9d91c9" />
<rect x="82.15" y="368.2" width="2.7" height="31.6" fill="#1b3e70" />
<rect x="87.55" y="376.05" width="2.7" height="23.75" fill="#3ba4dc" />
<line x1="52.5" y1="358.4" x2="52.5" y2="399.8" stroke="#231f20" stroke-width="1" />
<line x1="52" y1="399.5" x2="95.5" y2="399.5" stroke="#231f20" stroke-width="1" />
<line x1="48.7" y1="399.5" x2="52" y2="399.5" stroke="#231f20" stroke-width="1" />
<text x="45.2" y="402.5" font-size="7.8" text-anchor="end" fill="#262626" stroke="#262626" stroke-width="0.18">0</text>
<line x1="48.7" y1="390.5" x2="52" y2="390.5" stroke="#231f20" stroke-width="1" />
<text x="45.2" y="392.93" font-size="7.8" text-anchor="end" fill="#262626" stroke="#262626" stroke-width="0.18">5</text>
<line x1="48.7" y1="380.5" x2="52" y2="380.5" stroke="#231f20" stroke-width="1" />
<text x="45.2" y="383.35" font-size="7.8" text-anchor="end" fill="#262626" stroke="#262626" stroke-width="0.18">10</text>
<line x1="48.7" y1="371.5" x2="52" y2="371.5" stroke="#231f20" stroke-width="1" />
<text x="45.2" y="373.77" font-size="7.8" text-anchor="end" fill="#262626" stroke="#262626" stroke-width="0.18">15</text>
<line x1="48.7" y1="361.5" x2="52" y2="361.5" stroke="#231f20" stroke-width="1" />
<text x="45.2" y="364.2" font-size="7.8" text-anchor="end" fill="#262626" stroke="#262626" stroke-width="0.18">20</text>
<line x1="64.5" y1="399.8" x2="64.5" y2="403" stroke="#231f20" stroke-width="1" />
<text x="64" y="412.9" font-size="7.8" text-anchor="middle" fill="#262626" stroke="#262626" stroke-width="0.18">D4</text>
<line x1="83.5" y1="399.8" x2="83.5" y2="403" stroke="#231f20" stroke-width="1" />
<text x="83.5" y="412.9" font-size="7.8" text-anchor="middle" fill="#262626" stroke="#262626" stroke-width="0.18">D7</text>
<text x="74.5" y="355.8" font-size="7.6" text-anchor="middle" fill="#262626" stroke="#262626" stroke-width="0.18" font-style="italic">CD11B</text>
<rect x="119.05" y="399.03" width="2.7" height="0.77" fill="#9d91c9" />
<rect x="124.45" y="386.39" width="2.7" height="13.41" fill="#1b3e70" />
<rect x="129.75" y="389.54" width="2.7" height="10.26" fill="#3ba4dc" />
<rect x="138.45" y="399.03" width="2.7" height="0.77" fill="#9d91c9" />
<rect x="143.95" y="367.63" width="2.7" height="32.17" fill="#1b3e70" />
<rect x="149.35" y="375.29" width="2.7" height="24.51" fill="#3ba4dc" />
<line x1="113.5" y1="358.4" x2="113.5" y2="399.8" stroke="#231f20" stroke-width="1" />
<line x1="113.8" y1="399.5" x2="157.3" y2="399.5" stroke="#231f20" stroke-width="1" />
<line x1="110.5" y1="399.5" x2="113.8" y2="399.5" stroke="#231f20" stroke-width="1" />
<text x="107" y="402.5" font-size="7.8" text-anchor="end" fill="#262626" stroke="#262626" stroke-width="0.18">0</text>
<line x1="110.5" y1="392.5" x2="113.8" y2="392.5" stroke="#231f20" stroke-width="1" />
<text x="107" y="394.84" font-size="7.8" text-anchor="end" fill="#262626" stroke="#262626" stroke-width="0.18">10</text>
<line x1="110.5" y1="384.5" x2="113.8" y2="384.5" stroke="#231f20" stroke-width="1" />
<text x="107" y="387.18" font-size="7.8" text-anchor="end" fill="#262626" stroke="#262626" stroke-width="0.18">20</text>
<line x1="110.5" y1="376.5" x2="113.8" y2="376.5" stroke="#231f20" stroke-width="1" />
<text x="107" y="379.52" font-size="7.8" text-anchor="end" fill="#262626" stroke="#262626" stroke-width="0.18">30</text>
<line x1="110.5" y1="369.5" x2="113.8" y2="369.5" stroke="#231f20" stroke-width="1" />
<text x="107" y="371.86" font-size="7.8" text-anchor="end" fill="#262626" stroke="#262626" stroke-width="0.18">40</text>
<line x1="110.5" y1="361.5" x2="113.8" y2="361.5" stroke="#231f20" stroke-width="1" />
<text x="107" y="364.2" font-size="7.8" text-anchor="end" fill="#262626" stroke="#262626" stroke-width="0.18">50</text>
<line x1="125.5" y1="399.8" x2="125.5" y2="403" stroke="#231f20" stroke-width="1" />
<text x="125.8" y="412.9" font-size="7.8" text-anchor="middle" fill="#262626" stroke="#262626" stroke-width="0.18">D4</text>
<line x1="145.5" y1="399.8" x2="145.5" y2="403" stroke="#231f20" stroke-width="1" />
<text x="145.3" y="412.9" font-size="7.8" text-anchor="middle" fill="#262626" stroke="#262626" stroke-width="0.18">D7</text>
<text x="136.3" y="355.8" font-size="7.6" text-anchor="middle" fill="#262626" stroke="#262626" stroke-width="0.18" font-style="italic">CD14</text>
<rect x="178.75" y="397.88" width="2.7" height="1.92" fill="#9d91c9" />
<rect x="184.15" y="364.18" width="2.7" height="35.62" fill="#1b3e70" />
<rect x="189.45" y="370.69" width="2.7" height="29.11" fill="#3ba4dc" />
<rect x="198.15" y="397.88" width="2.7" height="1.92" fill="#9d91c9" />
<rect x="203.65" y="386.39" width="2.7" height="13.41" fill="#1b3e70" />
<rect x="209.05" y="388.88" width="2.7" height="10.92" fill="#3ba4dc" />
<line x1="173.5" y1="358.4" x2="173.5" y2="399.8" stroke="#231f20" stroke-width="1" />
<line x1="173.5" y1="399.5" x2="217" y2="399.5" stroke="#231f20" stroke-width="1" />
<line x1="170.2" y1="399.5" x2="173.5" y2="399.5" stroke="#231f20" stroke-width="1" />
<text x="166.7" y="402.5" font-size="7.8" text-anchor="end" fill="#262626" stroke="#262626" stroke-width="0.18">0</text>
<line x1="170.2" y1="390.5" x2="173.5" y2="390.5" stroke="#231f20" stroke-width="1" />
<text x="166.7" y="392.93" font-size="7.8" text-anchor="end" fill="#262626" stroke="#262626" stroke-width="0.18">5</text>
<line x1="170.2" y1="380.5" x2="173.5" y2="380.5" stroke="#231f20" stroke-width="1" />
<text x="166.7" y="383.35" font-size="7.8" text-anchor="end" fill="#262626" stroke="#262626" stroke-width="0.18">10</text>
<line x1="170.2" y1="371.5" x2="173.5" y2="371.5" stroke="#231f20" stroke-width="1" />
<text x="166.7" y="373.77" font-size="7.8" text-anchor="end" fill="#262626" stroke="#262626" stroke-width="0.18">15</text>
<line x1="170.2" y1="361.5" x2="173.5" y2="361.5" stroke="#231f20" stroke-width="1" />
<text x="166.7" y="364.2" font-size="7.8" text-anchor="end" fill="#262626" stroke="#262626" stroke-width="0.18">20</text>
<line x1="185.5" y1="399.8" x2="185.5" y2="403" stroke="#231f20" stroke-width="1" />
<text x="185.5" y="412.9" font-size="7.8" text-anchor="middle" fill="#262626" stroke="#262626" stroke-width="0.18">D4</text>
<line x1="205.5" y1="399.8" x2="205.5" y2="403" stroke="#231f20" stroke-width="1" />
<text x="205" y="412.9" font-size="7.8" text-anchor="middle" fill="#262626" stroke="#262626" stroke-width="0.18">D7</text>
<text x="196" y="355.8" font-size="7.6" text-anchor="middle" fill="#262626" stroke="#262626" stroke-width="0.18" font-style="italic">CD11C</text>
<rect x="237.75" y="390.23" width="2.7" height="9.57" fill="#9d91c9" />
<rect x="243.15" y="372.51" width="2.7" height="27.29" fill="#1b3e70" />
<rect x="248.45" y="371.07" width="2.7" height="28.73" fill="#3ba4dc" />
<rect x="257.15" y="390.23" width="2.7" height="9.57" fill="#9d91c9" />
<rect x="262.65" y="371.07" width="2.7" height="28.73" fill="#1b3e70" />
<rect x="268.05" y="372.51" width="2.7" height="27.29" fill="#3ba4dc" />
<line x1="232.5" y1="358.4" x2="232.5" y2="399.8" stroke="#231f20" stroke-width="1" />
<line x1="232.5" y1="399.5" x2="276" y2="399.5" stroke="#231f20" stroke-width="1" />
<line x1="229.2" y1="399.5" x2="232.5" y2="399.5" stroke="#231f20" stroke-width="1" />
<text x="225.7" y="402.5" font-size="7.8" text-anchor="end" fill="#262626" stroke="#262626" stroke-width="0.18">0</text>
<line x1="229.2" y1="390.5" x2="232.5" y2="390.5" stroke="#231f20" stroke-width="1" />
<text x="225.7" y="392.93" font-size="7.8" text-anchor="end" fill="#262626" stroke="#262626" stroke-width="0.18">1</text>
<line x1="229.2" y1="380.5" x2="232.5" y2="380.5" stroke="#231f20" stroke-width="1" />
<text x="225.7" y="383.35" font-size="7.8" text-anchor="end" fill="#262626" stroke="#262626" stroke-width="0.18">2</text>
<line x1="229.2" y1="371.5" x2="232.5" y2="371.5" stroke="#231f20" stroke-width="1" />
<text x="225.7" y="373.77" font-size="7.8" text-anchor="end" fill="#262626" stroke="#262626" stroke-width="0.18">3</text>
<line x1="229.2" y1="361.5" x2="232.5" y2="361.5" stroke="#231f20" stroke-width="1" />
<text x="225.7" y="364.2" font-size="7.8" text-anchor="end" fill="#262626" stroke="#262626" stroke-width="0.18">4</text>
<line x1="244.5" y1="399.8" x2="244.5" y2="403" stroke="#231f20" stroke-width="1" />
<text x="244.5" y="412.9" font-size="7.8" text-anchor="middle" fill="#262626" stroke="#262626" stroke-width="0.18">D4</text>
<line x1="264.5" y1="399.8" x2="264.5" y2="403" stroke="#231f20" stroke-width="1" />
<text x="264" y="412.9" font-size="7.8" text-anchor="middle" fill="#262626" stroke="#262626" stroke-width="0.18">D7</text>
<text x="255" y="355.8" font-size="7.6" text-anchor="middle" fill="#262626" stroke="#262626" stroke-width="0.18" font-style="italic">CD18</text>
<rect x="57.25" y="469.05" width="2.7" height="1.15" fill="#9d91c9" />
<rect x="62.65" y="459.25" width="2.7" height="10.95" fill="#1b3e70" />
<rect x="67.95" y="465.11" width="2.7" height="5.09" fill="#3ba4dc" />
<rect x="76.65" y="469.05" width="2.7" height="1.15" fill="#9d91c9" />
<rect x="82.15" y="434.8" width="2.7" height="35.4" fill="#1b3e70" />
<rect x="87.55" y="460.01" width="2.7" height="10.19" fill="#3ba4dc" />
<line x1="52.5" y1="428.8" x2="52.5" y2="470.2" stroke="#231f20" stroke-width="1" />
<line x1="52" y1="470.5" x2="95.5" y2="470.5" stroke="#231f20" stroke-width="1" />
<line x1="48.7" y1="470.5" x2="52" y2="470.5" stroke="#231f20" stroke-width="1" />
<text x="45.2" y="472.9" font-size="7.8" text-anchor="end" fill="#262626" stroke="#262626" stroke-width="0.18">0</text>
<line x1="48.7" y1="457.5" x2="52" y2="457.5" stroke="#231f20" stroke-width="1" />
<text x="45.2" y="460.17" font-size="7.8" text-anchor="end" fill="#262626" stroke="#262626" stroke-width="0.18">10</text>
<line x1="48.7" y1="444.5" x2="52" y2="444.5" stroke="#231f20" stroke-width="1" />
<text x="45.2" y="447.43" font-size="7.8" text-anchor="end" fill="#262626" stroke="#262626" stroke-width="0.18">20</text>
<line x1="48.7" y1="432.5" x2="52" y2="432.5" stroke="#231f20" stroke-width="1" />
<text x="45.2" y="434.7" font-size="7.8" text-anchor="end" fill="#262626" stroke="#262626" stroke-width="0.18">30</text>
<line x1="64.5" y1="470.2" x2="64.5" y2="473.4" stroke="#231f20" stroke-width="1" />
<text x="64" y="483" font-size="7.8" text-anchor="middle" fill="#262626" stroke="#262626" stroke-width="0.18">D4</text>
<line x1="83.5" y1="470.2" x2="83.5" y2="473.4" stroke="#231f20" stroke-width="1" />
<text x="83.5" y="483" font-size="7.8" text-anchor="middle" fill="#262626" stroke="#262626" stroke-width="0.18">D7</text>
<text x="74.5" y="426" font-size="7.6" text-anchor="middle" fill="#262626" stroke="#262626" stroke-width="0.18" font-style="italic">CSF1R</text>
<rect x="119.05" y="465.19" width="2.7" height="5.01" fill="#9d91c9" />
<rect x="124.45" y="435.34" width="2.7" height="34.86" fill="#1b3e70" />
<rect x="129.75" y="456.11" width="2.7" height="14.09" fill="#3ba4dc" />
<rect x="138.45" y="465.19" width="2.7" height="5.01" fill="#9d91c9" />
<rect x="143.95" y="436.77" width="2.7" height="33.43" fill="#1b3e70" />
<rect x="149.35" y="460.89" width="2.7" height="9.31" fill="#3ba4dc" />
<line x1="113.5" y1="428.8" x2="113.5" y2="470.2" stroke="#231f20" stroke-width="1" />
<line x1="113.8" y1="470.5" x2="157.3" y2="470.5" stroke="#231f20" stroke-width="1" />
<line x1="110.5" y1="470.5" x2="113.8" y2="470.5" stroke="#231f20" stroke-width="1" />
<text x="107" y="472.9" font-size="7.8" text-anchor="end" fill="#262626" stroke="#262626" stroke-width="0.18">0</text>
<line x1="110.5" y1="460.5" x2="113.8" y2="460.5" stroke="#231f20" stroke-width="1" />
<text x="107" y="463.35" font-size="7.8" text-anchor="end" fill="#262626" stroke="#262626" stroke-width="0.18">2</text>
<line x1="110.5" y1="451.5" x2="113.8" y2="451.5" stroke="#231f20" stroke-width="1" />
<text x="107" y="453.8" font-size="7.8" text-anchor="end" fill="#262626" stroke="#262626" stroke-width="0.18">4</text>
<line x1="110.5" y1="441.5" x2="113.8" y2="441.5" stroke="#231f20" stroke-width="1" />
<text x="107" y="444.25" font-size="7.8" text-anchor="end" fill="#262626" stroke="#262626" stroke-width="0.18">6</text>
<line x1="110.5" y1="432.5" x2="113.8" y2="432.5" stroke="#231f20" stroke-width="1" />
<text x="107" y="434.7" font-size="7.8" text-anchor="end" fill="#262626" stroke="#262626" stroke-width="0.18">8</text>
<line x1="125.5" y1="470.2" x2="125.5" y2="473.4" stroke="#231f20" stroke-width="1" />
<text x="125.8" y="483" font-size="7.8" text-anchor="middle" fill="#262626" stroke="#262626" stroke-width="0.18">D4</text>
<line x1="145.5" y1="470.2" x2="145.5" y2="473.4" stroke="#231f20" stroke-width="1" />
<text x="145.3" y="483" font-size="7.8" text-anchor="middle" fill="#262626" stroke="#262626" stroke-width="0.18">D7</text>
<text x="136.3" y="426" font-size="7.6" text-anchor="middle" fill="#262626" stroke="#262626" stroke-width="0.18" font-style="italic">IL1B</text>
<rect x="178.75" y="469.44" width="2.7" height="0.76" fill="#9d91c9" />
<rect x="184.15" y="443.84" width="2.7" height="26.36" fill="#1b3e70" />
<rect x="189.45" y="455.99" width="2.7" height="14.21" fill="#3ba4dc" />
<rect x="198.15" y="469.44" width="2.7" height="0.76" fill="#9d91c9" />
<rect x="203.65" y="436.05" width="2.7" height="34.15" fill="#1b3e70" />
<rect x="209.05" y="458.36" width="2.7" height="11.84" fill="#3ba4dc" />
<line x1="173.5" y1="428.8" x2="173.5" y2="470.2" stroke="#231f20" stroke-width="1" />
<line x1="173.5" y1="470.5" x2="217" y2="470.5" stroke="#231f20" stroke-width="1" />
<line x1="170.2" y1="470.5" x2="173.5" y2="470.5" stroke="#231f20" stroke-width="1" />
<text x="166.7" y="472.9" font-size="7.8" text-anchor="end" fill="#262626" stroke="#262626" stroke-width="0.18">0</text>
<line x1="170.2" y1="462.5" x2="173.5" y2="462.5" stroke="#231f20" stroke-width="1" />
<text x="166.7" y="465.26" font-size="7.8" text-anchor="end" fill="#262626" stroke="#262626" stroke-width="0.18">10</text>
<line x1="170.2" y1="454.5" x2="173.5" y2="454.5" stroke="#231f20" stroke-width="1" />
<text x="166.7" y="457.62" font-size="7.8" text-anchor="end" fill="#262626" stroke="#262626" stroke-width="0.18">20</text>
<line x1="170.2" y1="447.5" x2="173.5" y2="447.5" stroke="#231f20" stroke-width="1" />
<text x="166.7" y="449.98" font-size="7.8" text-anchor="end" fill="#262626" stroke="#262626" stroke-width="0.18">30</text>
<line x1="170.2" y1="439.5" x2="173.5" y2="439.5" stroke="#231f20" stroke-width="1" />
<text x="166.7" y="442.34" font-size="7.8" text-anchor="end" fill="#262626" stroke="#262626" stroke-width="0.18">40</text>
<line x1="170.2" y1="432.5" x2="173.5" y2="432.5" stroke="#231f20" stroke-width="1" />
<text x="166.7" y="434.7" font-size="7.8" text-anchor="end" fill="#262626" stroke="#262626" stroke-width="0.18">50</text>
<line x1="185.5" y1="470.2" x2="185.5" y2="473.4" stroke="#231f20" stroke-width="1" />
<text x="185.5" y="483" font-size="7.8" text-anchor="middle" fill="#262626" stroke="#262626" stroke-width="0.18">D4</text>
<line x1="205.5" y1="470.2" x2="205.5" y2="473.4" stroke="#231f20" stroke-width="1" />
<text x="205" y="483" font-size="7.8" text-anchor="middle" fill="#262626" stroke="#262626" stroke-width="0.18">D7</text>
<text x="196" y="426" font-size="7.6" text-anchor="middle" fill="#262626" stroke="#262626" stroke-width="0.18" font-style="italic">MAFB</text>
<rect x="237.75" y="460.65" width="2.7" height="9.55" fill="#9d91c9" />
<rect x="243.15" y="437.83" width="2.7" height="32.37" fill="#1b3e70" />
<rect x="248.45" y="435.34" width="2.7" height="34.86" fill="#3ba4dc" />
<rect x="257.15" y="460.65" width="2.7" height="9.55" fill="#9d91c9" />
<rect x="262.65" y="443.46" width="2.7" height="26.74" fill="#1b3e70" />
<rect x="268.05" y="448.24" width="2.7" height="21.96" fill="#3ba4dc" />
<line x1="232.5" y1="428.8" x2="232.5" y2="470.2" stroke="#231f20" stroke-width="1" />
<line x1="232.5" y1="470.5" x2="276" y2="470.5" stroke="#231f20" stroke-width="1" />
<line x1="229.2" y1="470.5" x2="232.5" y2="470.5" stroke="#231f20" stroke-width="1" />
<text x="225.7" y="472.9" font-size="7.8" text-anchor="end" fill="#262626" stroke="#262626" stroke-width="0.18">0</text>
<line x1="229.2" y1="460.5" x2="232.5" y2="460.5" stroke="#231f20" stroke-width="1" />
<text x="225.7" y="463.35" font-size="7.8" text-anchor="end" fill="#262626" stroke="#262626" stroke-width="0.18">1</text>
<line x1="229.2" y1="451.5" x2="232.5" y2="451.5" stroke="#231f20" stroke-width="1" />
<text x="225.7" y="453.8" font-size="7.8" text-anchor="end" fill="#262626" stroke="#262626" stroke-width="0.18">2</text>
<line x1="229.2" y1="441.5" x2="232.5" y2="441.5" stroke="#231f20" stroke-width="1" />
<text x="225.7" y="444.25" font-size="7.8" text-anchor="end" fill="#262626" stroke="#262626" stroke-width="0.18">3</text>
<line x1="229.2" y1="432.5" x2="232.5" y2="432.5" stroke="#231f20" stroke-width="1" />
<text x="225.7" y="434.7" font-size="7.8" text-anchor="end" fill="#262626" stroke="#262626" stroke-width="0.18">4</text>
<line x1="244.5" y1="470.2" x2="244.5" y2="473.4" stroke="#231f20" stroke-width="1" />
<text x="244.5" y="483" font-size="7.8" text-anchor="middle" fill="#262626" stroke="#262626" stroke-width="0.18">D4</text>
<line x1="264.5" y1="470.2" x2="264.5" y2="473.4" stroke="#231f20" stroke-width="1" />
<text x="264" y="483" font-size="7.8" text-anchor="middle" fill="#262626" stroke="#262626" stroke-width="0.18">D7</text>
<text x="255" y="426" font-size="7.6" text-anchor="middle" fill="#262626" stroke="#262626" stroke-width="0.18" font-style="italic">CEBPB</text>
<text x="31.58" y="384.2" font-size="9.4" text-anchor="middle" fill="#262626" stroke="#262626" stroke-width="0.18" textLength="21.5" lengthAdjust="spacingAndGlyphs" transform="rotate(-90 31.58 384.2)">mRNA</text>
<text x="31.58" y="454.3" font-size="9.4" text-anchor="middle" fill="#262626" stroke="#262626" stroke-width="0.18" textLength="21.5" lengthAdjust="spacingAndGlyphs" transform="rotate(-90 31.58 454.3)">mRNA</text>
<text x="283.8" y="343.3" font-size="13" fill="#000" font-weight="bold">E</text>
<line x1="316.2" y1="381.5" x2="325.4" y2="381.5" stroke="#8f87c5" stroke-width="1.3" />
<text x="330.2" y="384.3" font-size="7.9" fill="#262626" stroke="#262626" stroke-width="0.18" textLength="21" lengthAdjust="spacingAndGlyphs">shCtrl</text>
<line x1="316.2" y1="388.5" x2="325.4" y2="388.5" stroke="#1d3f7a" stroke-width="1.3" />
<text x="330.2" y="391.72" font-size="7.9" fill="#262626" stroke="#262626" stroke-width="0.18" textLength="48" lengthAdjust="spacingAndGlyphs">shZDHHC21 #1</text>
<line x1="316.2" y1="396.5" x2="325.4" y2="396.5" stroke="#2aa0d8" stroke-width="1.3" />
<text x="330.2" y="399.14" font-size="7.9" fill="#262626" stroke="#262626" stroke-width="0.18" textLength="48" lengthAdjust="spacingAndGlyphs">shZDHHC21 #2</text>
<line x1="316.2" y1="403.5" x2="325.4" y2="403.5" stroke="#2e9e3a" stroke-width="1.3" />
<text x="330.2" y="406.56" font-size="7.9" fill="#262626" stroke="#262626" stroke-width="0.18" textLength="48" lengthAdjust="spacingAndGlyphs">shZDHHC23 #1</text>
<line x1="316.2" y1="411.5" x2="325.4" y2="411.5" stroke="#a9c28e" stroke-width="1.3" />
<text x="330.2" y="413.98" font-size="7.9" fill="#262626" stroke="#262626" stroke-width="0.18" textLength="48" lengthAdjust="spacingAndGlyphs">shZDHHC23 #2</text>
<line x1="318.55" y1="466.18" x2="451.05" y2="473.18" stroke="#9c9c9c" stroke-width="0.6" />
<line x1="330.2" y1="461.35" x2="462.7" y2="468.35" stroke="#9c9c9c" stroke-width="0.6" />
<line x1="341.85" y1="456.52" x2="474.35" y2="463.52" stroke="#9c9c9c" stroke-width="0.6" />
<line x1="353.5" y1="451.7" x2="486" y2="458.7" stroke="#9c9c9c" stroke-width="0.6" />
<line x1="323.46" y1="471.88" x2="370.06" y2="452.57" stroke="#9c9c9c" stroke-width="0.6" />
<line x1="340.02" y1="472.75" x2="386.62" y2="453.45" stroke="#9c9c9c" stroke-width="0.6" />
<line x1="356.59" y1="473.62" x2="403.19" y2="454.32" stroke="#9c9c9c" stroke-width="0.6" />
<line x1="373.15" y1="474.5" x2="419.75" y2="455.2" stroke="#9c9c9c" stroke-width="0.6" />
<line x1="389.71" y1="475.38" x2="436.31" y2="456.07" stroke="#9c9c9c" stroke-width="0.6" />
<line x1="406.27" y1="476.25" x2="452.88" y2="456.95" stroke="#9c9c9c" stroke-width="0.6" />
<line x1="422.84" y1="477.12" x2="469.44" y2="457.82" stroke="#9c9c9c" stroke-width="0.6" />
<line x1="439.4" y1="478" x2="486" y2="458.7" stroke="#9c9c9c" stroke-width="0.6" />
<line x1="306.9" y1="471" x2="353.5" y2="451.7" stroke="#9c9c9c" stroke-width="0.5" />
<path d="M353.6 451.62 L354.73 451.23 L355.87 451.25 L357 449.95 L358 448.68 L359 447.47 L360 445.5 L361 443.02 L362 440.21 L363 436.47 L364 431.35 L365.5 425.69 L366.5 422.85 L367.5 423.3 L368.5 424.31 L370 427.27 L371.15 432.07 L372.3 435.34 L373.23 436.45 L374.15 437.98 L375.07 438.85 L376 440.22 L377 442.01 L378 442.22 L379 443.38 L380 444.43 L381 445.05 L382 446.53 L383 447.27 L384 448.7 L385 448.96 L386 449.94 L387 450.5 L388 451.11 L389 451.13 L390 451.2 L391 452.7 L392 453.04 L393 453.14 L393.93 453.06 L394.85 452.55 L395.77 452.54 L396.7 452.76 L397.62 452.54 L398.55 453.78 L399.47 453.32 L400.4 454.15 L401.36 453.56 L402.32 454.61 L403.28 454.58 L404.24 453.36 L405.2 453.84 L406.16 455.1 L407.12 454.53 L408.08 455.49 L409.04 454.7 L410 454.32 L410.94 455.31 L411.88 455.65 L412.81 454.93 L413.75 454.74 L414.69 455.23 L415.62 456.34 L416.56 456.11 L417.5 455.19 L418.44 455.49 L419.38 455.36 L420.31 455.4 L421.25 456.68 L422.19 455.78 L423.12 456.49 L424.06 456.42 L425 456.11 L425.91 457 L426.82 456.07 L427.73 456.92 L428.64 456.11 L429.55 456.63 L430.46 456.33 L431.37 456.45 L432.28 457.6 L433.19 457.37 L434.1 456.6 L435.01 457.56 L435.93 456.51 L436.84 456.84 L437.75 457.61 L438.66 457.3 L439.57 456.46 L440.48 457.92 L441.39 456.71 L442.3 456.81 L443.21 457.66 L444.12 456.98 L445.03 456.96 L445.94 456.64 L446.85 456.7 L447.76 457.52 L448.67 457 L449.58 457.61 L450.49 457.27 L451.4 457.43 L452.31 458.27 L453.22 457.55 L454.13 457.72 L455.04 458.22 L455.96 457.16 L456.87 457.14 L457.78 458.38 L458.69 458.27 L459.6 457.39 L460.51 457.33 L461.42 458.24 L462.33 458.59 L463.24 457.43 L464.15 458.67 L465.06 458.59 L465.97 458.18 L466.88 457.92 L467.79 457.44 L468.7 457.37 L469.61 458.88 L470.52 457.75 L471.43 458.53 L472.34 457.84 L473.25 458.78 L474.16 458.45 L475.07 457.99 L475.99 457.84 L476.9 458.74 L477.81 457.73 L478.72 458.01 L479.63 458.58 L480.54 459.08 L481.45 458.73 L482.36 458.22 L483.27 459.27 L484.18 458.16 L485.09 457.9 L486 458.7" fill="none" stroke="#a9c28e" stroke-width="1.3" stroke-linejoin="round"/>
<path d="M342 456.46 L343 456.25 L344 455.77 L345 454.43 L346.35 452.47 L347.7 451.3 L348.85 448.39 L350 446.5 L351 442.3 L352 438.16 L353 434.59 L354 431.26 L355.5 427.93 L357 427.4 L358.5 428.46 L360 433.65 L361.5 436.99 L363 442.01 L364.6 443.92 L365.73 445.53 L366.87 445.61 L368 446.35 L369.07 447.35 L370.15 446.33 L371.23 446.7 L372.3 448.36 L373.25 448.01 L374.2 447.65 L375.15 449.38 L376.1 449.61 L377.05 448.58 L378 449.38 L379.03 449.2 L380.07 449.77 L381.1 450.54 L382.13 450.09 L383.17 451.23 L384.2 450.48 L385.18 451.02 L386.15 452.41 L387.12 452.09 L388.1 452.47 L389.07 453.1 L390.05 453.26 L391.02 453.47 L392 453.25 L392.92 454.66 L393.83 455.35 L394.75 455.66 L395.67 455.46 L396.58 455.27 L397.5 455.58 L398.42 456.4 L399.33 456.68 L400.25 456.08 L401.17 456.58 L402.08 457.08 L403 457.62 L403.92 458.3 L404.85 458 L405.77 457.45 L406.69 458.92 L407.62 458.49 L408.54 458.83 L409.46 458.56 L410.38 459.08 L411.31 459.22 L412.23 460.04 L413.15 459.16 L414.08 460.08 L415 459.68 L415.91 460.56 L416.83 459.56 L417.74 460 L418.65 460.16 L419.57 460.67 L420.48 459.79 L421.39 460.49 L422.3 460.14 L423.22 460.31 L424.13 460.67 L425.04 461.5 L425.96 460.78 L426.87 461.59 L427.78 460.38 L428.7 461.65 L429.61 460.8 L430.52 460.57 L431.44 461.52 L432.35 461.83 L433.26 460.43 L434.17 460.9 L435.09 461.76 L436 461.12 L436.91 461.01 L437.83 460.69 L438.74 460.79 L439.65 461.77 L440.57 462.41 L441.48 462.48 L442.39 461.74 L443.31 461.02 L444.22 461.55 L445.13 462.35 L446.04 462.47 L446.96 462.21 L447.87 461.61 L448.78 462.14 L449.7 462.11 L450.61 462.4 L451.52 461.87 L452.44 463.01 L453.35 462.98 L454.26 461.86 L455.18 462.12 L456.09 463.1 L457 462.2 L457.91 463.31 L458.83 462.68 L459.74 463.02 L460.65 463.09 L461.57 462.35 L462.48 462.52 L463.39 462.52 L464.31 463.26 L465.22 463.32 L466.13 462.48 L467.05 463.73 L467.96 463.04 L468.87 462.8 L469.78 463.17 L470.7 464.09 L471.61 463.47 L472.52 463.62 L473.44 464.15 L474.35 463.52" fill="none" stroke="#2e9e3a" stroke-width="1.3" stroke-linejoin="round"/>
<path d="M330.3 460.61 L331.65 460.55 L333 459.79 L334 459.23 L335 457.33 L336 456.57 L337 454.94 L338 453.56 L339 453.12 L340 450.91 L341.5 448.55 L343 446.54 L344.5 448.67 L346 450.89 L347 452.04 L348 452.17 L349 451.72 L350 452.02 L351 451.68 L352 452.72 L353 452.5 L354 452.59 L355 452.72 L356 452.69 L357 453.12 L358 452.97 L359 452.21 L360 453.26 L361 452.78 L362 453.31 L363 453.1 L364 453.09 L365 453.18 L366 453.49 L367 453.5 L368 453.39 L369 454.65 L370 454.76 L371 455.21 L372 454.88 L373 454.8 L374 455.25 L375 454.42 L376 455.58 L377 455.51 L378 455.38 L379 455.72 L380 456.54 L381 456.31 L382 456.84 L383 457.27 L384 457.13 L385 456.91 L386 457.69 L387 457.48 L388 457.86 L389 458.19 L390 458.85 L391 458.77 L392 460.08 L393 460.95 L394 460.44 L395 461.35 L395.92 461.97 L396.85 460.82 L397.77 461.26 L398.69 462.6 L399.62 462.93 L400.54 462.88 L401.46 462.39 L402.38 463.08 L403.31 464.08 L404.23 464.39 L405.15 464.53 L406.08 463.85 L407 465.17 L407.91 464.46 L408.83 465.07 L409.74 464.2 L410.65 465.6 L411.57 465.07 L412.48 465.33 L413.39 464.57 L414.3 465.28 L415.22 465.28 L416.13 465.36 L417.04 465.05 L417.96 465.7 L418.87 465.15 L419.78 465.13 L420.7 464.99 L421.61 465.88 L422.52 465.02 L423.44 465.27 L424.35 465.08 L425.26 466.06 L426.18 465.98 L427.09 466.02 L428 465.28 L428.91 465.98 L429.83 465.89 L430.74 465.55 L431.65 465.46 L432.57 467.12 L433.48 465.78 L434.39 466.13 L435.31 466.14 L436.22 466.72 L437.13 465.95 L438.05 466.64 L438.96 466.54 L439.87 467.35 L440.79 466.08 L441.7 466.67 L442.61 466.99 L443.52 467.81 L444.44 467.15 L445.35 467.14 L446.26 467.51 L447.18 466.98 L448.09 466.62 L449 467.43 L449.92 468.15 L450.83 467.93 L451.74 467.23 L452.66 467.97 L453.57 468.29 L454.48 467.41 L455.4 468 L456.31 467.69 L457.22 467.57 L458.13 467.7 L459.05 467.63 L459.96 467.93 L460.87 467.49 L461.79 468.12 L462.7 468.35" fill="none" stroke="#2aa0d8" stroke-width="1.3" stroke-linejoin="round"/>
<path d="M316.6 464.77 L317.68 465.64 L318.76 465.48 L319.84 465.86 L320.92 464.71 L322 464.61 L322.95 465.31 L323.9 465.12 L324.85 464.48 L325.8 465.03 L326.75 464.5 L327.7 465.04 L328.76 463.67 L329.82 463.52 L330.88 464.28 L331.94 463.09 L333 462.62 L334 463.17 L335 462.58 L336 461.5 L337 461.82 L338 461.69 L339 460.58 L340 461.04 L341 459.54 L342 459.22 L343 458.15 L344 457.69 L345 458.26 L346.05 456.62 L347.1 456.83 L348.15 455.23 L349.2 454.77 L350.13 454.33 L351.07 453.17 L352 451.38 L353.13 451.74 L354.27 451.41 L355.4 450.29 L356.7 450.25 L358 451.6 L359.17 451.46 L360.33 451.38 L361.5 452.22 L362.75 452.95 L364 454.98 L364.93 455.3 L365.85 455.46 L366.77 457.41 L367.7 457.04 L368.8 458.45 L369.9 459.14 L371 461.38 L372.1 461.28 L373.2 462.84 L374.3 463.05 L375.4 464.57 L376.7 466.1 L378 467.06 L379.17 467.76 L380.33 468.64 L381.5 469.4 L382.4 469.7 L383.31 468.95 L384.21 469.6 L385.11 469.27 L386.02 470.32 L386.92 470.49 L387.82 469.14 L388.73 469.31 L389.63 470.26 L390.53 470.09 L391.44 469.26 L392.34 470.4 L393.24 470.83 L394.15 470.05 L395.05 469.97 L395.95 470.37 L396.86 471.01 L397.76 469.98 L398.66 470.09 L399.56 469.96 L400.47 470.71 L401.37 470.5 L402.27 470.21 L403.18 470.47 L404.08 469.95 L404.98 470.44 L405.89 471.56 L406.79 470.97 L407.69 470.54 L408.6 471.63 L409.5 470.75 L410.4 470.63 L411.31 470.33 L412.21 470.56 L413.11 470.69 L414.02 470.79 L414.92 471.86 L415.82 470.94 L416.73 470.96 L417.63 471.58 L418.53 472.12 L419.44 471.17 L420.34 471.97 L421.24 471.39 L422.15 471.75 L423.05 471.85 L423.95 472.45 L424.86 472.2 L425.76 471.85 L426.66 472.43 L427.57 471.72 L428.47 471.8 L429.37 472.77 L430.28 472.15 L431.18 472.56 L432.08 471.88 L432.99 472.88 L433.89 472.45 L434.79 471.91 L435.69 473.06 L436.6 472.36 L437.5 472.2 L438.4 472.13 L439.31 471.92 L440.21 472.12 L441.11 472.96 L442.02 472.12 L442.92 472.36 L443.82 472.71 L444.73 472.91 L445.63 472.7 L446.53 473.39 L447.44 472.59 L448.34 472.82 L449.24 472.96 L450.15 472.53 L451.05 473.18" fill="none" stroke="#1d3f7a" stroke-width="1.3" stroke-linejoin="round"/>
<path d="M309.2 469.24 L310.1 464.47 L311 462.38 L312.5 454.45 L313.5 450.78 L314.5 444.23 L315.5 441.36 L316.5 436.79 L318 434.07 L319 435.6 L320 432.58 L321.5 436.74 L323 442.33 L324 446.65 L325 451.62 L326 455.97 L327 461.37 L328 463.75 L329 465.98 L330 466.16 L331 468.38 L332 468.17 L333 468.17 L334 468.98 L335 469.37 L336 469.09 L337 470.12 L338 470.06 L339 470.65 L340 471.49 L340.9 471.1 L341.81 470.78 L342.71 471.58 L343.61 471.85 L344.52 471.11 L345.42 471.9 L346.33 470.49 L347.23 470.75 L348.13 470.86 L349.04 472.16 L349.94 471.82 L350.84 471.94 L351.75 471.31 L352.65 471.71 L353.55 472.4 L354.46 471.21 L355.36 471.3 L356.27 471.25 L357.17 471.99 L358.07 472.65 L358.98 472.26 L359.88 472.08 L360.78 472.31 L361.69 471.86 L362.59 473.15 L363.49 472.27 L364.4 472.14 L365.3 472.33 L366.21 473.22 L367.11 472.47 L368.01 473.48 L368.92 472.63 L369.82 472.87 L370.72 472.34 L371.63 473.74 L372.53 473.63 L373.43 473.18 L374.34 472.67 L375.24 473.34 L376.15 473.22 L377.05 474.03 L377.95 474.23 L378.86 474 L379.76 473.34 L380.66 473.01 L381.57 474.44 L382.47 474.59 L383.37 473.4 L384.28 474.01 L385.18 474.04 L386.09 474.9 L386.99 473.47 L387.89 473.57 L388.8 474.88 L389.7 474.51 L390.6 474.41 L391.51 474.98 L392.41 474.75 L393.31 474.97 L394.22 474.34 L395.12 474.13 L396.03 474.07 L396.93 474.66 L397.83 475.23 L398.74 474.86 L399.64 474.88 L400.54 475.38 L401.45 475.58 L402.35 475.47 L403.25 475.08 L404.16 475.96 L405.06 475.99 L405.97 476.21 L406.87 476.27 L407.77 474.93 L408.68 476.05 L409.58 475.6 L410.48 475.73 L411.39 476 L412.29 475.47 L413.19 475.7 L414.1 476.95 L415 475.96 L415.91 476.96 L416.81 476.66 L417.71 476.13 L418.62 476.2 L419.52 476.73 L420.42 476.95 L421.33 476.43 L422.23 476.05 L423.13 476.3 L424.04 477.46 L424.94 477.32 L425.85 476.39 L426.75 477.62 L427.65 477.27 L428.56 476.95 L429.46 477.91 L430.36 476.75 L431.27 476.77 L432.17 477.23 L433.07 477.92 L433.98 477.68 L434.88 477.65 L435.79 478.39 L436.69 477.63 L437.59 478.33 L438.5 477.14 L439.4 478" fill="none" stroke="#8f87c5" stroke-width="1.3" stroke-linejoin="round"/>
<line x1="306.5" y1="392.7" x2="306.5" y2="471" stroke="#231f20" stroke-width="1" />
<line x1="306.9" y1="471" x2="439.4" y2="478" stroke="#231f20" stroke-width="1" />
<line x1="439.4" y1="478" x2="486" y2="458.7" stroke="#231f20" stroke-width="1" />
<text x="302.3" y="434.8" font-size="8.6" text-anchor="middle" fill="#262626" stroke="#262626" stroke-width="0.18" textLength="40" lengthAdjust="spacingAndGlyphs" transform="rotate(-90 302.3 434.8)">Cell number</text>
<text x="360.6" y="483.5" font-size="8.6" text-anchor="middle" fill="#262626" stroke="#262626" stroke-width="0.18" textLength="24.2" lengthAdjust="spacingAndGlyphs">CD11b</text>
<rect x="430.2" y="403.81" width="7.2" height="3.59" fill="#9d91c9" />
<line x1="433.5" y1="403.81" x2="433.5" y2="400.58" stroke="#231f20" stroke-width="0.8" />
<line x1="432.5" y1="400.5" x2="435.1" y2="400.5" stroke="#231f20" stroke-width="0.8" />
<circle cx="432" cy="404.89" r="1.5" fill="#231f20" />
<circle cx="433.8" cy="404.39" r="1.5" fill="#231f20" />
<circle cx="435.6" cy="403.67" r="1.5" fill="#231f20" />
<rect x="443.7" y="365.43" width="7.2" height="41.97" fill="#1b4a80" />
<line x1="447.5" y1="365.43" x2="447.5" y2="363.27" stroke="#231f20" stroke-width="0.8" />
<line x1="446" y1="363.5" x2="448.6" y2="363.5" stroke="#231f20" stroke-width="0.8" />
<circle cx="445.5" cy="366.86" r="1.5" fill="#231f20" />
<circle cx="447.3" cy="365.43" r="1.5" fill="#231f20" />
<circle cx="449.1" cy="363.99" r="1.5" fill="#231f20" />
<rect x="457.3" y="375.11" width="7.2" height="32.29" fill="#3ba4dc" />
<line x1="460.5" y1="375.11" x2="460.5" y2="370.81" stroke="#231f20" stroke-width="0.8" />
<line x1="459.6" y1="370.5" x2="462.2" y2="370.5" stroke="#231f20" stroke-width="0.8" />
<circle cx="459.1" cy="377.26" r="1.5" fill="#231f20" />
<circle cx="460.9" cy="374.39" r="1.5" fill="#231f20" />
<circle cx="462.7" cy="372.6" r="1.5" fill="#231f20" />
<rect x="471.1" y="395.2" width="7.2" height="12.2" fill="#3aaa35" />
<line x1="474.5" y1="395.2" x2="474.5" y2="391.26" stroke="#231f20" stroke-width="0.8" />
<line x1="473.4" y1="391.5" x2="476" y2="391.5" stroke="#231f20" stroke-width="0.8" />
<circle cx="472.9" cy="397.35" r="1.5" fill="#231f20" />
<circle cx="474.7" cy="395.2" r="1.5" fill="#231f20" />
<circle cx="476.5" cy="393.05" r="1.5" fill="#231f20" />
<rect x="484.6" y="399.87" width="7.2" height="7.53" fill="#b5c99a" />
<line x1="488.5" y1="399.87" x2="488.5" y2="395.56" stroke="#231f20" stroke-width="0.8" />
<line x1="486.9" y1="395.5" x2="489.5" y2="395.5" stroke="#231f20" stroke-width="0.8" />
<circle cx="486.4" cy="401.66" r="1.5" fill="#231f20" />
<circle cx="488.2" cy="399.87" r="1.5" fill="#231f20" />
<circle cx="490" cy="398.07" r="1.5" fill="#231f20" />
<line x1="421.5" y1="346.5" x2="421.5" y2="407.4" stroke="#231f20" stroke-width="1" />
<line x1="421.9" y1="407.5" x2="498.5" y2="407.5" stroke="#231f20" stroke-width="1" />
<line x1="418.9" y1="407.5" x2="421.9" y2="407.5" stroke="#231f20" stroke-width="1" />
<text x="415.2" y="410.3" font-size="8.2" text-anchor="end" fill="#262626" stroke="#262626" stroke-width="0.18">0</text>
<line x1="418.9" y1="393.5" x2="421.9" y2="393.5" stroke="#231f20" stroke-width="1" />
<text x="415.2" y="395.95" font-size="8.2" text-anchor="end" fill="#262626" stroke="#262626" stroke-width="0.18">20</text>
<line x1="418.9" y1="378.5" x2="421.9" y2="378.5" stroke="#231f20" stroke-width="1" />
<text x="415.2" y="381.6" font-size="8.2" text-anchor="end" fill="#262626" stroke="#262626" stroke-width="0.18">40</text>
<line x1="418.9" y1="364.5" x2="421.9" y2="364.5" stroke="#231f20" stroke-width="1" />
<text x="415.2" y="367.25" font-size="8.2" text-anchor="end" fill="#262626" stroke="#262626" stroke-width="0.18">60</text>
<line x1="418.9" y1="350.5" x2="421.9" y2="350.5" stroke="#231f20" stroke-width="1" />
<text x="415.2" y="352.9" font-size="8.2" text-anchor="end" fill="#262626" stroke="#262626" stroke-width="0.18">80</text>
<line x1="433.5" y1="407.4" x2="433.5" y2="409.7" stroke="#231f20" stroke-width="0.8" />
<line x1="447.5" y1="407.4" x2="447.5" y2="409.7" stroke="#231f20" stroke-width="0.8" />
<line x1="460.5" y1="407.4" x2="460.5" y2="409.7" stroke="#231f20" stroke-width="0.8" />
<line x1="474.5" y1="407.4" x2="474.5" y2="409.7" stroke="#231f20" stroke-width="0.8" />
<line x1="488.5" y1="407.4" x2="488.5" y2="409.7" stroke="#231f20" stroke-width="0.8" />
<text x="447.3" y="362.8" font-size="8" text-anchor="middle" stroke="none">***</text>
<text x="460.9" y="371.6" font-size="8" text-anchor="middle" stroke="none">***</text>
<text x="474.7" y="389.9" font-size="8" text-anchor="middle" stroke="none">*</text>
<text x="488.2" y="392.6" font-size="7.2" text-anchor="middle" fill="#262626" stroke="#262626" stroke-width="0.18">n.s.</text>
<text x="435.6" y="419.4" font-size="6.7" text-anchor="end" fill="#262626" stroke="#262626" stroke-width="0.18" transform="rotate(-45 435.6 419.4)">shCtrl</text>
<text x="448.9" y="420.4" font-size="6.7" text-anchor="end" fill="#262626" stroke="#262626" stroke-width="0.18" transform="rotate(-45 448.9 420.4)">#1</text>
<text x="462.5" y="420.4" font-size="6.7" text-anchor="end" fill="#262626" stroke="#262626" stroke-width="0.18" transform="rotate(-45 462.5 420.4)">#2</text>
<text x="476.3" y="420.4" font-size="6.7" text-anchor="end" fill="#262626" stroke="#262626" stroke-width="0.18" transform="rotate(-45 476.3 420.4)">#1</text>
<text x="489.8" y="420.4" font-size="6.7" text-anchor="end" fill="#262626" stroke="#262626" stroke-width="0.18" transform="rotate(-45 489.8 420.4)">#2</text>
<line x1="437.9" y1="427.5" x2="464.8" y2="427.5" stroke="#231f20" stroke-width="1" />
<line x1="471.4" y1="427.5" x2="492.6" y2="427.5" stroke="#231f20" stroke-width="1" />
<text x="445.6" y="439.8" font-size="8" text-anchor="middle" fill="#262626" stroke="#262626" stroke-width="0.18" textLength="43.8" lengthAdjust="spacingAndGlyphs">shZDHHC21</text>
<text x="491.9" y="439.8" font-size="8" text-anchor="middle" fill="#262626" stroke="#262626" stroke-width="0.18" textLength="41.2" lengthAdjust="spacingAndGlyphs">shZDHHC23</text>
<text x="401.11" y="381.4" font-size="9.2" text-anchor="middle" fill="#262626" stroke="#262626" stroke-width="0.18" textLength="38" lengthAdjust="spacingAndGlyphs" transform="rotate(-90 401.11 381.4)">CD11b (%)</text>
<text x="7.9" y="514.7" font-size="13" fill="#000" font-weight="bold">F</text>
<rect x="53.8" y="598.13" width="9.2" height="13.27" fill="#a597d0" />
<rect x="67.1" y="562.3" width="9.2" height="49.1" fill="#1b4e89" />
<line x1="58.5" y1="598.13" x2="58.5" y2="595.21" stroke="#231f20" stroke-width="1" />
<line x1="56.9" y1="595.5" x2="59.9" y2="595.5" stroke="#231f20" stroke-width="1" />
<line x1="71.5" y1="562.3" x2="71.5" y2="555" stroke="#231f20" stroke-width="1" />
<line x1="70.2" y1="555.5" x2="73.2" y2="555.5" stroke="#231f20" stroke-width="1" />
<circle cx="55.5" cy="598.13" r="1.65" fill="#231f20" />
<circle cx="58.4" cy="596.14" r="1.65" fill="#231f20" />
<circle cx="61.3" cy="597.47" r="1.65" fill="#231f20" />
<circle cx="68.8" cy="566.28" r="1.65" fill="#231f20" />
<circle cx="71.7" cy="558.32" r="1.65" fill="#231f20" />
<circle cx="74.6" cy="562.3" r="1.65" fill="#231f20" />
<line x1="53.2" y1="614.5" x2="76.4" y2="614.5" stroke="#231f20" stroke-width="0.8" />
<rect x="80.8" y="598.79" width="9.2" height="12.61" fill="#a597d0" />
<rect x="94.1" y="577.56" width="9.2" height="33.84" fill="#1b4e89" />
<line x1="85.5" y1="598.79" x2="85.5" y2="596.8" stroke="#231f20" stroke-width="1" />
<line x1="83.9" y1="596.5" x2="86.9" y2="596.5" stroke="#231f20" stroke-width="1" />
<line x1="98.5" y1="577.56" x2="98.5" y2="573.58" stroke="#231f20" stroke-width="1" />
<line x1="97.2" y1="573.5" x2="100.2" y2="573.5" stroke="#231f20" stroke-width="1" />
<circle cx="82.5" cy="598.79" r="1.65" fill="#231f20" />
<circle cx="85.4" cy="597.47" r="1.65" fill="#231f20" />
<circle cx="88.3" cy="598.4" r="1.65" fill="#231f20" />
<circle cx="95.8" cy="579.55" r="1.65" fill="#231f20" />
<circle cx="98.7" cy="575.57" r="1.65" fill="#231f20" />
<circle cx="101.6" cy="576.9" r="1.65" fill="#231f20" />
<line x1="80.2" y1="614.5" x2="103.4" y2="614.5" stroke="#231f20" stroke-width="0.8" />
<rect x="107.5" y="595.48" width="9.2" height="15.92" fill="#a597d0" />
<rect x="120.8" y="567.61" width="9.2" height="43.79" fill="#1b4e89" />
<line x1="112.5" y1="595.48" x2="112.5" y2="591.5" stroke="#231f20" stroke-width="1" />
<line x1="110.6" y1="591.5" x2="113.6" y2="591.5" stroke="#231f20" stroke-width="1" />
<line x1="125.5" y1="567.61" x2="125.5" y2="561.64" stroke="#231f20" stroke-width="1" />
<line x1="123.9" y1="561.5" x2="126.9" y2="561.5" stroke="#231f20" stroke-width="1" />
<circle cx="109.2" cy="596.8" r="1.65" fill="#231f20" />
<circle cx="112.1" cy="592.16" r="1.65" fill="#231f20" />
<circle cx="115" cy="596.14" r="1.65" fill="#231f20" />
<circle cx="122.5" cy="570.26" r="1.65" fill="#231f20" />
<circle cx="125.4" cy="563.63" r="1.65" fill="#231f20" />
<circle cx="128.3" cy="567.61" r="1.65" fill="#231f20" />
<line x1="106.9" y1="614.5" x2="130.1" y2="614.5" stroke="#231f20" stroke-width="0.8" />
<rect x="134" y="594.15" width="9.2" height="17.25" fill="#a597d0" />
<rect x="147.3" y="570.93" width="9.2" height="40.47" fill="#1b4e89" />
<line x1="138.5" y1="594.15" x2="138.5" y2="588.84" stroke="#231f20" stroke-width="1" />
<line x1="137.1" y1="588.5" x2="140.1" y2="588.5" stroke="#231f20" stroke-width="1" />
<line x1="151.5" y1="570.93" x2="151.5" y2="563.63" stroke="#231f20" stroke-width="1" />
<line x1="150.4" y1="563.5" x2="153.4" y2="563.5" stroke="#231f20" stroke-width="1" />
<circle cx="135.7" cy="596.8" r="1.65" fill="#231f20" />
<circle cx="138.6" cy="590.17" r="1.65" fill="#231f20" />
<circle cx="141.5" cy="594.15" r="1.65" fill="#231f20" />
<circle cx="149" cy="576.9" r="1.65" fill="#231f20" />
<circle cx="151.9" cy="566.28" r="1.65" fill="#231f20" />
<circle cx="154.8" cy="570.26" r="1.65" fill="#231f20" />
<line x1="133.4" y1="614.5" x2="156.6" y2="614.5" stroke="#231f20" stroke-width="0.8" />
<text x="71.7" y="556.2" font-size="8" text-anchor="middle" stroke="none">***</text>
<text x="98.7" y="574" font-size="8" text-anchor="middle" stroke="none">***</text>
<text x="125.4" y="561.6" font-size="8" text-anchor="middle" stroke="none">***</text>
<text x="151.9" y="564.6" font-size="8" text-anchor="middle" stroke="none">**</text>
<line x1="49.5" y1="528" x2="49.5" y2="611.4" stroke="#231f20" stroke-width="1" />
<line x1="49.5" y1="611.5" x2="160.3" y2="611.5" stroke="#231f20" stroke-width="1" />
<line x1="46.5" y1="611.5" x2="49.5" y2="611.5" stroke="#231f20" stroke-width="1" />
<text x="41.8" y="614.2" font-size="7.6" text-anchor="end" fill="#262626" stroke="#262626" stroke-width="0.18">0</text>
<line x1="46.5" y1="584.5" x2="49.5" y2="584.5" stroke="#231f20" stroke-width="1" />
<text x="41.8" y="587.66" font-size="7.6" text-anchor="end" fill="#262626" stroke="#262626" stroke-width="0.18">20</text>
<line x1="46.5" y1="558.5" x2="49.5" y2="558.5" stroke="#231f20" stroke-width="1" />
<text x="41.8" y="561.12" font-size="7.6" text-anchor="end" fill="#262626" stroke="#262626" stroke-width="0.18">40</text>
<line x1="46.5" y1="531.5" x2="49.5" y2="531.5" stroke="#231f20" stroke-width="1" />
<text x="41.8" y="534.58" font-size="7.6" text-anchor="end" fill="#262626" stroke="#262626" stroke-width="0.18">60</text>
<text x="75.4" y="620.4" font-size="8.6" text-anchor="end" fill="#262626" stroke="#262626" stroke-width="0.18" transform="rotate(-45 75.4 620.4)">MV411</text>
<text x="102.4" y="620.4" font-size="8.6" text-anchor="end" fill="#262626" stroke="#262626" stroke-width="0.18" transform="rotate(-45 102.4 620.4)">OCI-AML3</text>
<text x="129.1" y="620.4" font-size="8.6" text-anchor="end" fill="#262626" stroke="#262626" stroke-width="0.18" transform="rotate(-45 129.1 620.4)">THP-1</text>
<text x="155.6" y="620.4" font-size="8.6" text-anchor="end" fill="#262626" stroke="#262626" stroke-width="0.18" transform="rotate(-45 155.6 620.4)">Kasumi-1</text>
<rect x="93.2" y="533.8" width="5.5" height="5.5" fill="#a597d0" />
<text x="102.5" y="537.4" font-size="7.9" fill="#262626" stroke="#262626" stroke-width="0.18" textLength="19.6" lengthAdjust="spacingAndGlyphs">shCtrl</text>
<rect x="93.2" y="542.4" width="5.5" height="5.5" fill="#1b4e89" />
<text x="102.5" y="546" font-size="7.9" fill="#262626" stroke="#262626" stroke-width="0.18" textLength="40.5" lengthAdjust="spacingAndGlyphs">shZDHHC21</text>
<text x="25.61" y="570.5" font-size="9.2" text-anchor="middle" fill="#262626" stroke="#262626" stroke-width="0.18" textLength="38" lengthAdjust="spacingAndGlyphs" transform="rotate(-90 25.61 570.5)">CD11b (%)</text>
<text x="164.8" y="515" font-size="13" fill="#000" font-weight="bold">G</text>
<rect x="213.65" y="602.78" width="9.6" height="8.92" fill="#a597d0" />
<line x1="218.5" y1="602.78" x2="218.5" y2="601.21" stroke="#231f20" stroke-width="1" />
<line x1="216.95" y1="601.5" x2="219.95" y2="601.5" stroke="#231f20" stroke-width="1" />
<circle cx="215.55" cy="603.31" r="1.65" fill="#231f20" />
<circle cx="218.45" cy="601.73" r="1.65" fill="#231f20" />
<circle cx="221.35" cy="602.99" r="1.65" fill="#231f20" />
<rect x="226.5" y="541.42" width="9.6" height="70.28" fill="#1b4e89" />
<line x1="231.5" y1="541.42" x2="231.5" y2="529.88" stroke="#231f20" stroke-width="1" />
<line x1="229.8" y1="529.5" x2="232.8" y2="529.5" stroke="#231f20" stroke-width="1" />
<circle cx="228.4" cy="546.66" r="1.65" fill="#231f20" />
<circle cx="231.3" cy="542.47" r="1.65" fill="#231f20" />
<circle cx="234.2" cy="531.98" r="1.65" fill="#231f20" />
<rect x="238.9" y="556.1" width="9.6" height="55.6" fill="#3ba4dc" />
<line x1="243.5" y1="556.1" x2="243.5" y2="552.43" stroke="#231f20" stroke-width="1" />
<line x1="242.2" y1="552.5" x2="245.2" y2="552.5" stroke="#231f20" stroke-width="1" />
<circle cx="240.8" cy="559.25" r="1.65" fill="#231f20" />
<circle cx="243.7" cy="554.01" r="1.65" fill="#231f20" />
<circle cx="246.6" cy="553.48" r="1.65" fill="#231f20" />
<line x1="208.5" y1="524.8" x2="208.5" y2="611.7" stroke="#231f20" stroke-width="1" />
<line x1="208.6" y1="611.5" x2="251.2" y2="611.5" stroke="#231f20" stroke-width="1" />
<line x1="205.6" y1="611.5" x2="208.6" y2="611.5" stroke="#231f20" stroke-width="1" />
<text x="201.6" y="614.5" font-size="7.6" text-anchor="end" fill="#262626" stroke="#262626" stroke-width="0.18">0</text>
<line x1="205.6" y1="590.5" x2="208.6" y2="590.5" stroke="#231f20" stroke-width="1" />
<text x="201.6" y="593.52" font-size="7.6" text-anchor="end" fill="#262626" stroke="#262626" stroke-width="0.18">20</text>
<line x1="205.6" y1="569.5" x2="208.6" y2="569.5" stroke="#231f20" stroke-width="1" />
<text x="201.6" y="572.54" font-size="7.6" text-anchor="end" fill="#262626" stroke="#262626" stroke-width="0.18">40</text>
<line x1="205.6" y1="548.5" x2="208.6" y2="548.5" stroke="#231f20" stroke-width="1" />
<text x="201.6" y="551.56" font-size="7.6" text-anchor="end" fill="#262626" stroke="#262626" stroke-width="0.18">60</text>
<line x1="205.6" y1="527.5" x2="208.6" y2="527.5" stroke="#231f20" stroke-width="1" />
<text x="201.6" y="530.58" font-size="7.6" text-anchor="end" fill="#262626" stroke="#262626" stroke-width="0.18">80</text>
<line x1="218.5" y1="611.7" x2="218.5" y2="614" stroke="#231f20" stroke-width="0.8" />
<line x1="231.5" y1="611.7" x2="231.5" y2="614" stroke="#231f20" stroke-width="0.8" />
<line x1="243.5" y1="611.7" x2="243.5" y2="614" stroke="#231f20" stroke-width="0.8" />
<text x="231.3" y="527.9" font-size="8" text-anchor="middle" stroke="none">***</text>
<text x="243.7" y="551.8" font-size="8" text-anchor="middle" stroke="none">***</text>
<text x="220.6" y="618.6" font-size="6.8" text-anchor="end" fill="#262626" stroke="#262626" stroke-width="0.18" transform="rotate(-45 220.6 618.6)">shCtrl</text>
<text x="233.6" y="620.2" font-size="6.8" text-anchor="end" fill="#262626" stroke="#262626" stroke-width="0.18" transform="rotate(-45 233.6 620.2)">#1</text>
<text x="246" y="620.2" font-size="6.8" text-anchor="end" fill="#262626" stroke="#262626" stroke-width="0.18" transform="rotate(-45 246 620.2)">#2</text>
<line x1="224.2" y1="627.5" x2="251.2" y2="627.5" stroke="#231f20" stroke-width="1" />
<text x="236.9" y="636.5" font-size="7.9" text-anchor="middle" fill="#262626" stroke="#262626" stroke-width="0.18" textLength="40" lengthAdjust="spacingAndGlyphs">shZDHHC21</text>
<text x="187.31" y="574" font-size="9.2" text-anchor="middle" fill="#262626" stroke="#262626" stroke-width="0.18" textLength="36" lengthAdjust="spacingAndGlyphs" transform="rotate(-90 187.31 574)">CD14 (%)</text>
<text x="262.6" y="514.5" font-size="13" fill="#000" font-weight="bold">H</text>
<text x="309.5" y="541.3" font-size="7.6" text-anchor="middle" fill="#3a3a3a" stroke="#3a3a3a" stroke-width="0.18" textLength="20.5" lengthAdjust="spacingAndGlyphs">shCtrl</text>
<text x="379.7" y="527.8" font-size="7.6" text-anchor="middle" fill="#3a3a3a" stroke="#3a3a3a" stroke-width="0.18" textLength="39.6" lengthAdjust="spacingAndGlyphs">shZDHHC21</text>
<text x="470.3" y="527.8" font-size="7.6" text-anchor="middle" fill="#3a3a3a" stroke="#3a3a3a" stroke-width="0.18" textLength="41" lengthAdjust="spacingAndGlyphs">shZDHHC23</text>
<line x1="343.9" y1="532.5" x2="414" y2="532.5" stroke="#231f20" stroke-width="1" />
<line x1="436" y1="532.5" x2="505.4" y2="532.5" stroke="#231f20" stroke-width="1" />
<text x="354.2" y="541.3" font-size="7.6" text-anchor="middle" fill="#3a3a3a" stroke="#3a3a3a" stroke-width="0.18">#1</text>
<text x="399.9" y="541.3" font-size="7.6" text-anchor="middle" fill="#3a3a3a" stroke="#3a3a3a" stroke-width="0.18">#2</text>
<text x="444.8" y="541.3" font-size="7.6" text-anchor="middle" fill="#3a3a3a" stroke="#3a3a3a" stroke-width="0.18">#1</text>
<text x="490.5" y="541.3" font-size="7.6" text-anchor="middle" fill="#3a3a3a" stroke="#3a3a3a" stroke-width="0.18">#2</text>
<defs><radialGradient id="cp"><stop offset="0" stop-color="#c858a6"/><stop offset="0.45" stop-color="#d06eb2"/><stop offset="0.78" stop-color="#c48ac4"/><stop offset="1" stop-color="#94acdc" stop-opacity="0.7"/></radialGradient><radialGradient id="cq"><stop offset="0" stop-color="#cc64aa"/><stop offset="0.6" stop-color="#d07ab8"/><stop offset="0.85" stop-color="#a890c8"/><stop offset="1" stop-color="#8c9cd4" stop-opacity="0.8"/></radialGradient><filter id="bl" x="-5%" y="-5%" width="110%" height="110%"><feGaussianBlur stdDeviation="0.7"/></filter><radialGradient id="cb"><stop offset="0" stop-color="#86a4d8" stop-opacity="0.75"/><stop offset="1" stop-color="#a8c0e4" stop-opacity="0"/></radialGradient><radialGradient id="nd"><stop offset="0" stop-color="#3a4682"/><stop offset="0.7" stop-color="#4c5890"/><stop offset="1" stop-color="#7a82a8" stop-opacity="0.5"/></radialGradient><radialGradient id="nm"><stop offset="0" stop-color="#6a74a4"/><stop offset="0.7" stop-color="#7e86ae"/><stop offset="1" stop-color="#a0a4bc" stop-opacity="0.4"/></radialGradient><radialGradient id="nl"><stop offset="0" stop-color="#b4b4c4"/><stop offset="1" stop-color="#c8c6d0" stop-opacity="0.3"/></radialGradient></defs>
<defs><clipPath id="hr0"><rect x="287" y="546.5" width="43.5" height="43.7"/></clipPath></defs>
<rect x="287" y="546.5" width="43.5" height="43.7" fill="#f0f0f6" />
<g clip-path="url(#hr0)"><g filter="url(#bl)">
<circle cx="300.85" cy="566.76" r="8.37" fill="url(#cb)" />
<circle cx="307.38" cy="562.39" r="8.37" fill="url(#cb)" />
<circle cx="313.9" cy="560.21" r="8.37" fill="url(#cb)" />
<circle cx="319.12" cy="555.84" r="8.37" fill="url(#cb)" />
<circle cx="309.55" cy="571.13" r="8.37" fill="url(#cb)" />
<circle cx="316.07" cy="568.95" r="8.37" fill="url(#cb)" />
<circle cx="321.73" cy="565.45" r="8.37" fill="url(#cb)" />
<circle cx="303.03" cy="575.5" r="8.37" fill="url(#cb)" />
<circle cx="309.55" cy="578.56" r="8.37" fill="url(#cb)" />
<circle cx="316.07" cy="577.69" r="8.37" fill="url(#cb)" />
<circle cx="320.86" cy="582.93" r="8.37" fill="url(#cb)" />
<circle cx="307.38" cy="585.12" r="8.37" fill="url(#cb)" />
<circle cx="296.5" cy="575.94" r="8.37" fill="url(#cb)" />
<circle cx="291.28" cy="585.56" r="8.37" fill="url(#cb)" />
<circle cx="325.21" cy="573.32" r="8.37" fill="url(#cb)" />
<circle cx="326.08" cy="560.21" r="8.37" fill="url(#cb)" />
<circle cx="300.05" cy="566.16" r="5.4" fill="url(#cp)" />
<circle cx="306.57" cy="561.79" r="5.4" fill="url(#cp)" />
<circle cx="313.1" cy="559.61" r="5.4" fill="url(#cp)" />
<circle cx="318.32" cy="555.24" r="5.4" fill="url(#cp)" />
<circle cx="308.75" cy="570.53" r="5.4" fill="url(#cp)" />
<circle cx="315.27" cy="568.35" r="5.4" fill="url(#cp)" />
<circle cx="320.93" cy="564.85" r="5.4" fill="url(#cp)" />
<circle cx="302.23" cy="574.9" r="5.4" fill="url(#cp)" />
<circle cx="308.75" cy="577.96" r="5.4" fill="url(#cp)" />
<circle cx="315.27" cy="577.09" r="5.4" fill="url(#cp)" />
<circle cx="320.06" cy="582.33" r="5.4" fill="url(#cp)" />
<circle cx="306.57" cy="584.52" r="5.4" fill="url(#cp)" />
<circle cx="295.7" cy="575.34" r="5.4" fill="url(#cp)" />
<circle cx="290.48" cy="584.96" r="5.4" fill="url(#cp)" />
<circle cx="324.41" cy="572.72" r="5.4" fill="url(#cp)" />
<circle cx="325.28" cy="559.61" r="5.4" fill="url(#cp)" />
</g></g>
<rect x="287" y="546.5" width="43.5" height="43.7" fill="none" stroke="#2a2a2a" stroke-width="1.1" />
<defs><clipPath id="hr1"><rect x="332" y="546.5" width="43.5" height="43.7"/></clipPath></defs>
<rect x="332" y="546.5" width="43.5" height="43.7" fill="#eeeef4" />
<g clip-path="url(#hr1)"><g filter="url(#bl)">
<circle cx="338.02" cy="553.65" r="8.37" fill="url(#cb)" />
<circle cx="344.98" cy="554.97" r="8.37" fill="url(#cb)" />
<circle cx="355.42" cy="555.84" r="8.37" fill="url(#cb)" />
<circle cx="348.46" cy="562.39" r="8.37" fill="url(#cb)" />
<circle cx="355.42" cy="565.45" r="8.37" fill="url(#cb)" />
<circle cx="343.24" cy="568.95" r="8.37" fill="url(#cb)" />
<circle cx="350.2" cy="574.19" r="8.37" fill="url(#cb)" />
<circle cx="357.16" cy="572.45" r="8.37" fill="url(#cb)" />
<circle cx="368.47" cy="568.95" r="8.37" fill="url(#cb)" />
<circle cx="342.37" cy="584.68" r="8.37" fill="url(#cb)" />
<circle cx="351.94" cy="582.93" r="8.37" fill="url(#cb)" />
<circle cx="359.77" cy="580.31" r="8.37" fill="url(#cb)" />
<circle cx="364.12" cy="587.3" r="8.37" fill="url(#cb)" />
<circle cx="336.28" cy="574.19" r="8.37" fill="url(#cb)" />
<circle cx="337.22" cy="553.05" r="5.4" fill="url(#cp)" />
<circle cx="344.18" cy="554.37" r="5.4" fill="url(#cp)" />
<circle cx="354.62" cy="555.24" r="5.4" fill="url(#cp)" />
<circle cx="347.66" cy="561.79" r="5.4" fill="url(#cp)" />
<circle cx="354.62" cy="564.85" r="5.4" fill="url(#cp)" />
<circle cx="342.44" cy="568.35" r="5.4" fill="url(#cp)" />
<circle cx="349.4" cy="573.59" r="5.4" fill="url(#cp)" />
<circle cx="356.36" cy="571.85" r="5.4" fill="url(#cp)" />
<circle cx="367.67" cy="568.35" r="5.4" fill="url(#cp)" />
<circle cx="341.57" cy="584.08" r="5.4" fill="url(#cp)" />
<circle cx="351.14" cy="582.33" r="5.4" fill="url(#cp)" />
<circle cx="358.97" cy="579.71" r="5.4" fill="url(#cp)" />
<circle cx="363.32" cy="586.7" r="5.4" fill="url(#cp)" />
<circle cx="335.48" cy="573.59" r="5.4" fill="url(#cp)" />
</g></g>
<rect x="332" y="546.5" width="43.5" height="43.7" fill="none" stroke="#2a2a2a" stroke-width="1.1" />
<defs><clipPath id="hr2"><rect x="377.5" y="546.5" width="43.5" height="43.7"/></clipPath></defs>
<rect x="377.5" y="546.5" width="43.5" height="43.7" fill="#eeeef5" />
<g clip-path="url(#hr2)"><g filter="url(#bl)">
<circle cx="389.18" cy="565.45" r="8.37" fill="url(#cb)" />
<circle cx="381.78" cy="571.57" r="8.37" fill="url(#cb)" />
<circle cx="391.35" cy="575.94" r="8.37" fill="url(#cb)" />
<circle cx="398.31" cy="573.32" r="8.37" fill="url(#cb)" />
<circle cx="402.66" cy="563.71" r="8.37" fill="url(#cb)" />
<circle cx="410.06" cy="566.76" r="8.37" fill="url(#cb)" />
<circle cx="415.71" cy="559.34" r="8.37" fill="url(#cb)" />
<circle cx="407.01" cy="557.59" r="8.37" fill="url(#cb)" />
<circle cx="400.05" cy="582.06" r="8.37" fill="url(#cb)" />
<circle cx="408.75" cy="577.69" r="8.37" fill="url(#cb)" />
<circle cx="417.45" cy="582.93" r="8.37" fill="url(#cb)" />
<circle cx="384.39" cy="584.68" r="8.37" fill="url(#cb)" />
<circle cx="388.38" cy="564.85" r="5.4" fill="url(#cp)" />
<circle cx="380.98" cy="570.97" r="5.4" fill="url(#cp)" />
<circle cx="390.55" cy="575.34" r="5.4" fill="url(#cp)" />
<circle cx="397.51" cy="572.72" r="5.4" fill="url(#cp)" />
<circle cx="401.86" cy="563.11" r="5.4" fill="url(#cp)" />
<circle cx="409.25" cy="566.16" r="5.4" fill="url(#cp)" />
<circle cx="414.91" cy="558.74" r="5.4" fill="url(#cp)" />
<circle cx="406.21" cy="556.99" r="5.4" fill="url(#cp)" />
<circle cx="399.25" cy="581.46" r="5.4" fill="url(#cp)" />
<circle cx="407.95" cy="577.09" r="5.4" fill="url(#cp)" />
<circle cx="416.65" cy="582.33" r="5.4" fill="url(#cp)" />
<circle cx="383.59" cy="584.08" r="5.4" fill="url(#cp)" />
</g></g>
<rect x="377.5" y="546.5" width="43.5" height="43.7" fill="none" stroke="#2a2a2a" stroke-width="1.1" />
<defs><clipPath id="hr3"><rect x="423" y="546.5" width="43.5" height="43.7"/></clipPath></defs>
<rect x="423" y="546.5" width="43.5" height="43.7" fill="#eae8f2" />
<g clip-path="url(#hr3)"><g filter="url(#bl)">
<circle cx="432.5" cy="553.65" r="8.37" fill="url(#cb)" />
<circle cx="441.2" cy="552.34" r="8.37" fill="url(#cb)" />
<circle cx="450.77" cy="552.34" r="8.37" fill="url(#cb)" />
<circle cx="460.78" cy="553.65" r="8.37" fill="url(#cb)" />
<circle cx="429.02" cy="563.71" r="8.37" fill="url(#cb)" />
<circle cx="437.72" cy="562.39" r="8.37" fill="url(#cb)" />
<circle cx="446.42" cy="561.52" r="8.37" fill="url(#cb)" />
<circle cx="455.12" cy="560.21" r="8.37" fill="url(#cb)" />
<circle cx="462.95" cy="564.58" r="8.37" fill="url(#cb)" />
<circle cx="428.15" cy="574.19" r="8.37" fill="url(#cb)" />
<circle cx="436.85" cy="572.45" r="8.37" fill="url(#cb)" />
<circle cx="445.55" cy="571.13" r="8.37" fill="url(#cb)" />
<circle cx="450.77" cy="578.56" r="8.37" fill="url(#cb)" />
<circle cx="462.08" cy="574.19" r="8.37" fill="url(#cb)" />
<circle cx="454.25" cy="586.43" r="8.37" fill="url(#cb)" />
<circle cx="462.08" cy="585.56" r="8.37" fill="url(#cb)" />
<circle cx="442.07" cy="581.19" r="8.37" fill="url(#cb)" />
<circle cx="431.7" cy="553.05" r="5.4" fill="url(#cq)" />
<circle cx="440.4" cy="551.74" r="5.4" fill="url(#cq)" />
<circle cx="449.97" cy="551.74" r="5.4" fill="url(#cq)" />
<circle cx="459.98" cy="553.05" r="5.4" fill="url(#cq)" />
<circle cx="428.22" cy="563.11" r="5.4" fill="url(#cq)" />
<circle cx="436.92" cy="561.79" r="5.4" fill="url(#cq)" />
<circle cx="445.62" cy="560.92" r="5.4" fill="url(#cq)" />
<circle cx="454.32" cy="559.61" r="5.4" fill="url(#cq)" />
<circle cx="462.15" cy="563.98" r="5.4" fill="url(#cq)" />
<circle cx="427.35" cy="573.59" r="5.4" fill="url(#cq)" />
<circle cx="436.05" cy="571.85" r="5.4" fill="url(#cq)" />
<circle cx="444.75" cy="570.53" r="5.4" fill="url(#cq)" />
<circle cx="449.97" cy="577.96" r="5.4" fill="url(#cq)" />
<circle cx="461.28" cy="573.59" r="5.4" fill="url(#cq)" />
<circle cx="453.45" cy="585.83" r="5.4" fill="url(#cq)" />
<circle cx="461.28" cy="584.96" r="5.4" fill="url(#cq)" />
<circle cx="441.27" cy="580.59" r="5.4" fill="url(#cq)" />
</g></g>
<rect x="423" y="546.5" width="43.5" height="43.7" fill="none" stroke="#2a2a2a" stroke-width="1.1" />
<defs><clipPath id="hr4"><rect x="468.5" y="546.5" width="43.5" height="43.7"/></clipPath></defs>
<rect x="468.5" y="546.5" width="43.5" height="43.7" fill="#eceef6" />
<g clip-path="url(#hr4)"><g filter="url(#bl)">
<circle cx="481.48" cy="555.84" r="9.61" fill="url(#cb)" />
<circle cx="491.05" cy="554.53" r="9.61" fill="url(#cb)" />
<circle cx="500.62" cy="561.52" r="9.61" fill="url(#cb)" />
<circle cx="478" cy="566.76" r="9.61" fill="url(#cb)" />
<circle cx="485.83" cy="564.58" r="9.61" fill="url(#cb)" />
<circle cx="493.66" cy="567.2" r="9.61" fill="url(#cb)" />
<circle cx="481.48" cy="575.07" r="9.61" fill="url(#cb)" />
<circle cx="491.05" cy="574.19" r="9.61" fill="url(#cb)" />
<circle cx="500.62" cy="575.94" r="9.61" fill="url(#cb)" />
<circle cx="508.45" cy="577.69" r="9.61" fill="url(#cb)" />
<circle cx="471.04" cy="568.95" r="9.61" fill="url(#cb)" />
<circle cx="480.68" cy="555.24" r="6.2" fill="url(#cq)" />
<circle cx="490.25" cy="553.93" r="6.2" fill="url(#cq)" />
<circle cx="499.82" cy="560.92" r="6.2" fill="url(#cq)" />
<circle cx="477.2" cy="566.16" r="6.2" fill="url(#cq)" />
<circle cx="485.03" cy="563.98" r="6.2" fill="url(#cq)" />
<circle cx="492.86" cy="566.6" r="6.2" fill="url(#cq)" />
<circle cx="480.68" cy="574.47" r="6.2" fill="url(#cq)" />
<circle cx="490.25" cy="573.59" r="6.2" fill="url(#cq)" />
<circle cx="499.82" cy="575.34" r="6.2" fill="url(#cq)" />
<circle cx="507.65" cy="577.09" r="6.2" fill="url(#cq)" />
<circle cx="470.24" cy="568.35" r="6.2" fill="url(#cq)" />
</g></g>
<rect x="468.5" y="546.5" width="43.5" height="43.7" fill="none" stroke="#2a2a2a" stroke-width="1.1" />
<defs><filter id="grain" x="0" y="0" width="100%" height="100%"><feTurbulence type="fractalNoise" baseFrequency="0.9" numOctaves="2" seed="3"/><feColorMatrix type="matrix" values="0 0 0 0 0.35  0 0 0 0 0.33  0 0 0 0 0.38  0 0 0 -1.4 1.05"/></filter></defs>
<defs><clipPath id="hn0"><rect x="287" y="592" width="43.5" height="43.8"/></clipPath></defs>
<rect x="287" y="592" width="43.5" height="43.8" fill="#d9d3cc" />
<g clip-path="url(#hn0)"><g filter="url(#bl)">
<circle cx="313.97" cy="598.57" r="3.84" fill="url(#nm)" />
<circle cx="302.23" cy="611.71" r="6" fill="url(#nl)" />
<circle cx="319.62" cy="613.9" r="4.8" fill="url(#nl)" />
<circle cx="295.7" cy="627.04" r="5.4" fill="url(#nl)" />
<circle cx="323.98" cy="605.14" r="3.6" fill="url(#nl)" />
</g>
<rect x="287" y="592" width="43.5" height="43.8" fill="#000" filter="url(#grain)" opacity="0.35"/>
</g>
<rect x="287" y="592" width="43.5" height="43.8" fill="none" stroke="#2a2a2a" stroke-width="1.1" />
<defs><clipPath id="hn1"><rect x="332" y="592" width="43.5" height="43.8"/></clipPath></defs>
<rect x="332" y="592" width="43.5" height="43.8" fill="#cfccce" />
<g clip-path="url(#hn1)"><g filter="url(#bl)">
<circle cx="349.4" cy="606.02" r="6" fill="url(#nl)" />
<circle cx="354.62" cy="614.78" r="6" fill="url(#nl)" />
<circle cx="371.15" cy="606.02" r="5.4" fill="url(#nl)" />
<circle cx="353.75" cy="627.04" r="5.4" fill="url(#nl)" />
<circle cx="336.35" cy="596.38" r="5.4" fill="url(#nm)" />
<circle cx="345.05" cy="597.26" r="6" fill="url(#nd)" />
<circle cx="355.93" cy="598.57" r="5.76" fill="url(#nm)" />
<circle cx="363.32" cy="597.26" r="5.4" fill="url(#nm)" />
<circle cx="368.98" cy="600.76" r="6" fill="url(#nd)" />
<circle cx="338.52" cy="607.33" r="6" fill="url(#nd)" />
<circle cx="362.45" cy="607.33" r="6" fill="url(#nd)" />
<circle cx="368.98" cy="614.78" r="5.4" fill="url(#nm)" />
<circle cx="345.05" cy="616.09" r="5.4" fill="url(#nm)" />
<circle cx="341.57" cy="623.54" r="6" fill="url(#nd)" />
<circle cx="347.23" cy="630.54" r="6" fill="url(#nd)" />
<circle cx="337.22" cy="631.42" r="5.4" fill="url(#nm)" />
<circle cx="361.58" cy="623.54" r="6" fill="url(#nm)" />
<circle cx="371.15" cy="629.23" r="5.4" fill="url(#nm)" />
<circle cx="334.18" cy="616.09" r="4.8" fill="url(#nm)" />
<circle cx="351.57" cy="594.19" r="4.8" fill="url(#nm)" />
<circle cx="358.1" cy="632.3" r="5.4" fill="url(#nl)" />
</g>
<rect x="332" y="592" width="43.5" height="43.8" fill="#000" filter="url(#grain)" opacity="0.35"/>
</g>
<rect x="332" y="592" width="43.5" height="43.8" fill="none" stroke="#2a2a2a" stroke-width="1.1" />
<defs><clipPath id="hn2"><rect x="377.5" y="592" width="43.5" height="43.8"/></clipPath></defs>
<rect x="377.5" y="592" width="43.5" height="43.8" fill="#d8d4d0" />
<g clip-path="url(#hn2)"><g filter="url(#bl)">
<circle cx="390.55" cy="596.38" r="5.4" fill="url(#nd)" />
<circle cx="403.6" cy="600.76" r="6" fill="url(#nm)" />
<circle cx="411.43" cy="602.95" r="5.4" fill="url(#nm)" />
<circle cx="418.82" cy="600.76" r="4.8" fill="url(#nm)" />
<circle cx="405.77" cy="610.4" r="5.4" fill="url(#nm)" />
<circle cx="410.12" cy="619.16" r="6" fill="url(#nm)" />
<circle cx="419.26" cy="620.91" r="5.4" fill="url(#nm)" />
<circle cx="381.85" cy="620.91" r="5.4" fill="url(#nd)" />
<circle cx="413.17" cy="633.61" r="5.4" fill="url(#nm)" />
<circle cx="388.38" cy="607.33" r="6" fill="url(#nl)" />
<circle cx="397.07" cy="624.85" r="6" fill="url(#nl)" />
</g>
<rect x="377.5" y="592" width="43.5" height="43.8" fill="#000" filter="url(#grain)" opacity="0.35"/>
</g>
<rect x="377.5" y="592" width="43.5" height="43.8" fill="none" stroke="#2a2a2a" stroke-width="1.1" />
<defs><clipPath id="hn3"><rect x="423" y="592" width="43.5" height="43.8"/></clipPath></defs>
<rect x="423" y="592" width="43.5" height="43.8" fill="#dad6d2" />
<g clip-path="url(#hn3)"><g filter="url(#bl)">
<circle cx="431.7" cy="598.57" r="5.4" fill="url(#nm)" />
<circle cx="432.57" cy="612.59" r="6" fill="url(#nl)" />
<circle cx="453.45" cy="616.09" r="7.2" fill="url(#nm)" />
<circle cx="433.88" cy="630.54" r="5.4" fill="url(#nd)" />
<circle cx="449.1" cy="600.76" r="4.8" fill="url(#nl)" />
</g>
<rect x="423" y="592" width="43.5" height="43.8" fill="#000" filter="url(#grain)" opacity="0.35"/>
</g>
<rect x="423" y="592" width="43.5" height="43.8" fill="none" stroke="#2a2a2a" stroke-width="1.1" />
<defs><clipPath id="hn4"><rect x="468.5" y="592" width="43.5" height="43.8"/></clipPath></defs>
<rect x="468.5" y="592" width="43.5" height="43.8" fill="#d9d5d1" />
<g clip-path="url(#hn4)"><g filter="url(#bl)">
<circle cx="486.77" cy="605.14" r="5.04" fill="url(#nd)" />
<circle cx="503.3" cy="614.78" r="5.52" fill="url(#nm)" />
<circle cx="478.07" cy="616.53" r="5.04" fill="url(#nm)" />
<circle cx="483.73" cy="624.85" r="4.8" fill="url(#nl)" />
<circle cx="495.47" cy="627.04" r="4.8" fill="url(#nl)" />
</g>
<rect x="468.5" y="592" width="43.5" height="43.8" fill="#000" filter="url(#grain)" opacity="0.35"/>
</g>
<rect x="468.5" y="592" width="43.5" height="43.8" fill="none" stroke="#2a2a2a" stroke-width="1.1" />
<text x="289.8" y="554.6" font-size="7.6" fill="#231f20" stroke="#231f20" stroke-width="0.18" textLength="20.5" lengthAdjust="spacingAndGlyphs">50 μm</text>
<line x1="297" y1="557.5" x2="304.6" y2="557.5" stroke="#111" stroke-width="1.1" />
<text x="289.8" y="600.4" font-size="7.6" fill="#231f20" stroke="#231f20" stroke-width="0.18" textLength="20.5" lengthAdjust="spacingAndGlyphs">50 μm</text>
<line x1="297" y1="603.5" x2="304.6" y2="603.5" stroke="#111" stroke-width="1.1" />
<text x="285.24" y="568.4" font-size="7.6" text-anchor="middle" fill="#3a3a3a" stroke="#3a3a3a" stroke-width="0.18" transform="rotate(-90 285.24 568.4)">RG</text>
<text x="285.24" y="614.4" font-size="7.6" text-anchor="middle" fill="#3a3a3a" stroke="#3a3a3a" stroke-width="0.18" transform="rotate(-90 285.24 614.4)">NBT</text>
<text x="8.3" y="663" font-size="13" fill="#000" font-weight="bold">I</text>
<rect x="51.3" y="750.9" width="10.6" height="7" fill="#a597d0" />
<line x1="56.5" y1="750.9" x2="56.5" y2="749.4" stroke="#231f20" stroke-width="1" />
<line x1="55.1" y1="749.5" x2="58.1" y2="749.5" stroke="#231f20" stroke-width="1" />
<circle cx="53.7" cy="750.9" r="1.65" fill="#231f20" />
<circle cx="56.6" cy="749.9" r="1.65" fill="#231f20" />
<circle cx="59.5" cy="750.4" r="1.65" fill="#231f20" />
<rect x="65.8" y="693.9" width="10.6" height="64" fill="#1b4e89" />
<line x1="71.5" y1="693.9" x2="71.5" y2="684.4" stroke="#231f20" stroke-width="1" />
<line x1="69.6" y1="684.5" x2="72.6" y2="684.5" stroke="#231f20" stroke-width="1" />
<circle cx="68.2" cy="695.9" r="1.65" fill="#231f20" />
<circle cx="71.1" cy="693.9" r="1.65" fill="#231f20" />
<circle cx="74" cy="683.9" r="1.65" fill="#231f20" />
<rect x="79.5" y="702.9" width="10.6" height="55" fill="#3ba4dc" />
<line x1="84.5" y1="702.9" x2="84.5" y2="701.9" stroke="#231f20" stroke-width="1" />
<line x1="83.3" y1="701.5" x2="86.3" y2="701.5" stroke="#231f20" stroke-width="1" />
<circle cx="81.9" cy="703.4" r="1.65" fill="#231f20" />
<circle cx="84.8" cy="702.4" r="1.65" fill="#231f20" />
<circle cx="87.7" cy="702.9" r="1.65" fill="#231f20" />
<rect x="93.8" y="743.4" width="10.6" height="14.5" fill="#3aaa35" />
<line x1="99.5" y1="743.4" x2="99.5" y2="740.4" stroke="#231f20" stroke-width="1" />
<line x1="97.6" y1="740.5" x2="100.6" y2="740.5" stroke="#231f20" stroke-width="1" />
<circle cx="96.2" cy="745.9" r="1.65" fill="#231f20" />
<circle cx="99.1" cy="741.9" r="1.65" fill="#231f20" />
<circle cx="102" cy="743.9" r="1.65" fill="#231f20" />
<rect x="107.8" y="744.9" width="10.6" height="13" fill="#b5c99a" />
<line x1="113.5" y1="744.9" x2="113.5" y2="741.9" stroke="#231f20" stroke-width="1" />
<line x1="111.6" y1="741.5" x2="114.6" y2="741.5" stroke="#231f20" stroke-width="1" />
<circle cx="110.2" cy="746.9" r="1.65" fill="#231f20" />
<circle cx="113.1" cy="744.9" r="1.65" fill="#231f20" />
<circle cx="116" cy="741.9" r="1.65" fill="#231f20" />
<line x1="45.5" y1="674.3" x2="45.5" y2="757.9" stroke="#231f20" stroke-width="1" />
<line x1="45.4" y1="757.5" x2="119.8" y2="757.5" stroke="#231f20" stroke-width="1" />
<line x1="42.4" y1="757.5" x2="45.4" y2="757.5" stroke="#231f20" stroke-width="1" />
<text x="37.9" y="760.7" font-size="7.6" text-anchor="end" fill="#262626" stroke="#262626" stroke-width="0.18">0</text>
<line x1="42.4" y1="737.5" x2="45.4" y2="737.5" stroke="#231f20" stroke-width="1" />
<text x="37.9" y="740.7" font-size="7.6" text-anchor="end" fill="#262626" stroke="#262626" stroke-width="0.18">20</text>
<line x1="42.4" y1="717.5" x2="45.4" y2="717.5" stroke="#231f20" stroke-width="1" />
<text x="37.9" y="720.7" font-size="7.6" text-anchor="end" fill="#262626" stroke="#262626" stroke-width="0.18">40</text>
<line x1="42.4" y1="697.5" x2="45.4" y2="697.5" stroke="#231f20" stroke-width="1" />
<text x="37.9" y="700.7" font-size="7.6" text-anchor="end" fill="#262626" stroke="#262626" stroke-width="0.18">60</text>
<line x1="42.4" y1="677.5" x2="45.4" y2="677.5" stroke="#231f20" stroke-width="1" />
<text x="37.9" y="680.7" font-size="7.6" text-anchor="end" fill="#262626" stroke="#262626" stroke-width="0.18">80</text>
<line x1="56.5" y1="757.9" x2="56.5" y2="760.2" stroke="#231f20" stroke-width="0.8" />
<line x1="71.5" y1="757.9" x2="71.5" y2="760.2" stroke="#231f20" stroke-width="0.8" />
<line x1="84.5" y1="757.9" x2="84.5" y2="760.2" stroke="#231f20" stroke-width="0.8" />
<line x1="99.5" y1="757.9" x2="99.5" y2="760.2" stroke="#231f20" stroke-width="0.8" />
<line x1="113.5" y1="757.9" x2="113.5" y2="760.2" stroke="#231f20" stroke-width="0.8" />
<text x="71.1" y="681.9" font-size="8" text-anchor="middle" stroke="none">***</text>
<text x="84.8" y="699.7" font-size="8" text-anchor="middle" stroke="none">***</text>
<text x="99.1" y="739.3" font-size="8" text-anchor="middle" stroke="none">**</text>
<text x="113.1" y="739.3" font-size="8" text-anchor="middle" stroke="none">*</text>
<text x="59.2" y="766.2" font-size="6.8" text-anchor="end" fill="#262626" stroke="#262626" stroke-width="0.18" transform="rotate(-45 59.2 766.2)">shCtrl</text>
<text x="72.7" y="767" font-size="6.8" text-anchor="end" fill="#262626" stroke="#262626" stroke-width="0.18" transform="rotate(-45 72.7 767)">#1</text>
<text x="86.4" y="767" font-size="6.8" text-anchor="end" fill="#262626" stroke="#262626" stroke-width="0.18" transform="rotate(-45 86.4 767)">#2</text>
<text x="100.7" y="767" font-size="6.8" text-anchor="end" fill="#262626" stroke="#262626" stroke-width="0.18" transform="rotate(-45 100.7 767)">#1</text>
<text x="114.7" y="767" font-size="6.8" text-anchor="end" fill="#262626" stroke="#262626" stroke-width="0.18" transform="rotate(-45 114.7 767)">#2</text>
<line x1="64.6" y1="771.5" x2="88.8" y2="771.5" stroke="#231f20" stroke-width="1" />
<line x1="94.2" y1="771.5" x2="118.5" y2="771.5" stroke="#231f20" stroke-width="1" />
<text x="69.4" y="781.2" font-size="7.9" text-anchor="middle" fill="#262626" stroke="#262626" stroke-width="0.18" textLength="41.7" lengthAdjust="spacingAndGlyphs">shZDHHC21</text>
<text x="113.8" y="781.2" font-size="7.9" text-anchor="middle" fill="#262626" stroke="#262626" stroke-width="0.18" textLength="41.7" lengthAdjust="spacingAndGlyphs">shZDHHC23</text>
<text x="24.51" y="723.6" font-size="9.2" text-anchor="middle" fill="#262626" stroke="#262626" stroke-width="0.18" textLength="62" lengthAdjust="spacingAndGlyphs" transform="rotate(-90 24.51 723.6)">NBT reduction (%)</text>
<text x="141.7" y="665.2" font-size="13" fill="#000" font-weight="bold">J</text>
<rect x="188.2" y="748.64" width="10.2" height="9.36" fill="#a597d0" />
<line x1="193.5" y1="748.64" x2="193.5" y2="746.6" stroke="#231f20" stroke-width="1" />
<line x1="191.8" y1="746.5" x2="194.8" y2="746.5" stroke="#231f20" stroke-width="1" />
<circle cx="190.4" cy="749" r="1.65" fill="#231f20" />
<circle cx="193.3" cy="747.44" r="1.65" fill="#231f20" />
<circle cx="196.2" cy="748.88" r="1.65" fill="#231f20" />
<rect x="203" y="686.6" width="10.2" height="71.4" fill="#1b4e89" />
<line x1="208.5" y1="686.6" x2="208.5" y2="680" stroke="#231f20" stroke-width="1" />
<line x1="206.6" y1="680.5" x2="209.6" y2="680.5" stroke="#231f20" stroke-width="1" />
<circle cx="205.2" cy="692" r="1.65" fill="#231f20" />
<circle cx="208.1" cy="686" r="1.65" fill="#231f20" />
<circle cx="211" cy="682.4" r="1.65" fill="#231f20" />
<rect x="217.4" y="701.6" width="10.2" height="56.4" fill="#3ba4dc" />
<line x1="222.5" y1="701.6" x2="222.5" y2="699.2" stroke="#231f20" stroke-width="1" />
<line x1="221" y1="699.5" x2="224" y2="699.5" stroke="#231f20" stroke-width="1" />
<circle cx="219.6" cy="703.4" r="1.65" fill="#231f20" />
<circle cx="222.5" cy="701" r="1.65" fill="#231f20" />
<circle cx="225.4" cy="699.8" r="1.65" fill="#231f20" />
<line x1="183.5" y1="672" x2="183.5" y2="758" stroke="#231f20" stroke-width="1" />
<line x1="183" y1="758.5" x2="228.3" y2="758.5" stroke="#231f20" stroke-width="1" />
<line x1="180" y1="758.5" x2="183" y2="758.5" stroke="#231f20" stroke-width="1" />
<text x="176.4" y="760.7" font-size="7.3" text-anchor="end" fill="#262626" stroke="#262626" stroke-width="0.18">0</text>
<line x1="180" y1="746.5" x2="183" y2="746.5" stroke="#231f20" stroke-width="1" />
<text x="176.4" y="748.7" font-size="7.3" text-anchor="end" fill="#262626" stroke="#262626" stroke-width="0.18">10</text>
<line x1="180" y1="734.5" x2="183" y2="734.5" stroke="#231f20" stroke-width="1" />
<text x="176.4" y="736.7" font-size="7.3" text-anchor="end" fill="#262626" stroke="#262626" stroke-width="0.18">20</text>
<line x1="180" y1="722.5" x2="183" y2="722.5" stroke="#231f20" stroke-width="1" />
<text x="176.4" y="724.7" font-size="7.3" text-anchor="end" fill="#262626" stroke="#262626" stroke-width="0.18">30</text>
<line x1="180" y1="710.5" x2="183" y2="710.5" stroke="#231f20" stroke-width="1" />
<text x="176.4" y="712.7" font-size="7.3" text-anchor="end" fill="#262626" stroke="#262626" stroke-width="0.18">40</text>
<line x1="180" y1="698.5" x2="183" y2="698.5" stroke="#231f20" stroke-width="1" />
<text x="176.4" y="700.7" font-size="7.3" text-anchor="end" fill="#262626" stroke="#262626" stroke-width="0.18">50</text>
<line x1="180" y1="686.5" x2="183" y2="686.5" stroke="#231f20" stroke-width="1" />
<text x="176.4" y="688.7" font-size="7.3" text-anchor="end" fill="#262626" stroke="#262626" stroke-width="0.18">60</text>
<line x1="180" y1="674.5" x2="183" y2="674.5" stroke="#231f20" stroke-width="1" />
<text x="176.4" y="676.7" font-size="7.3" text-anchor="end" fill="#262626" stroke="#262626" stroke-width="0.18">70</text>
<line x1="193.5" y1="758" x2="193.5" y2="760.3" stroke="#231f20" stroke-width="0.8" />
<line x1="208.5" y1="758" x2="208.5" y2="760.3" stroke="#231f20" stroke-width="0.8" />
<line x1="222.5" y1="758" x2="222.5" y2="760.3" stroke="#231f20" stroke-width="0.8" />
<text x="208.1" y="678.1" font-size="8" text-anchor="middle" stroke="none">***</text>
<text x="222.5" y="698.4" font-size="8" text-anchor="middle" stroke="none">***</text>
<text x="196" y="766.2" font-size="6.8" text-anchor="end" fill="#262626" stroke="#262626" stroke-width="0.18" transform="rotate(-45 196 766.2)">shCtrl</text>
<text x="209.7" y="767" font-size="6.8" text-anchor="end" fill="#262626" stroke="#262626" stroke-width="0.18" transform="rotate(-45 209.7 767)">#1</text>
<text x="224.1" y="767" font-size="6.8" text-anchor="end" fill="#262626" stroke="#262626" stroke-width="0.18" transform="rotate(-45 224.1 767)">#2</text>
<line x1="202.2" y1="771.5" x2="227" y2="771.5" stroke="#231f20" stroke-width="1" />
<text x="214.2" y="781.2" font-size="7.9" text-anchor="middle" fill="#262626" stroke="#262626" stroke-width="0.18" textLength="40.5" lengthAdjust="spacingAndGlyphs">shZDHHC21</text>
<text x="161.51" y="723" font-size="9.2" text-anchor="middle" fill="#262626" stroke="#262626" stroke-width="0.18" textLength="64.6" lengthAdjust="spacingAndGlyphs" transform="rotate(-90 161.51 723)">Bacteria killing (%)</text>
<text x="242.4" y="663.6" font-size="13" fill="#000" font-weight="bold">K</text>
<path d="M294 756.07 L333.6 746.16 L360 720.76 L386.4 692.57" fill="none" stroke="#9a8fd0" stroke-width="1.1" />
<path d="M294 756.32 L333.6 746.92 L360 730.16 L386.4 711.62" fill="none" stroke="#3ba4dc" stroke-width="1.1" />
<path d="M294 756.32 L333.6 747.43 L360 733.46 L386.4 728.13" fill="none" stroke="#1b4e89" stroke-width="1.2" />
<line x1="386.5" y1="692.57" x2="386.5" y2="688.76" stroke="#9a8fd0" stroke-width="0.8" />
<line x1="385.1" y1="688.5" x2="387.7" y2="688.5" stroke="#9a8fd0" stroke-width="0.8" />
<line x1="386.5" y1="692.57" x2="386.5" y2="696.38" stroke="#9a8fd0" stroke-width="0.8" />
<line x1="385.1" y1="696.5" x2="387.7" y2="696.5" stroke="#9a8fd0" stroke-width="0.8" />
<line x1="386.5" y1="711.62" x2="386.5" y2="709.08" stroke="#3ba4dc" stroke-width="0.8" />
<line x1="385.1" y1="709.5" x2="387.7" y2="709.5" stroke="#3ba4dc" stroke-width="0.8" />
<line x1="386.5" y1="711.62" x2="386.5" y2="714.16" stroke="#3ba4dc" stroke-width="0.8" />
<line x1="385.1" y1="714.5" x2="387.7" y2="714.5" stroke="#3ba4dc" stroke-width="0.8" />
<circle cx="294" cy="756.07" r="2.6" fill="#9a8fd0" />
<circle cx="333.6" cy="746.16" r="2.6" fill="#9a8fd0" />
<circle cx="360" cy="720.76" r="2.6" fill="#9a8fd0" />
<circle cx="386.4" cy="692.57" r="2.6" fill="#9a8fd0" />
<path d="M294 753.52 L296.7 758.22 L291.3 758.22 Z" fill="#3ba4dc" />
<path d="M333.6 744.12 L336.3 748.82 L330.9 748.82 Z" fill="#3ba4dc" />
<path d="M360 727.36 L362.7 732.06 L357.3 732.06 Z" fill="#3ba4dc" />
<path d="M386.4 708.82 L389.1 713.52 L383.7 713.52 Z" fill="#3ba4dc" />
<rect x="291.7" y="754.02" width="4.6" height="4.6" fill="#1b4e89" />
<rect x="331.3" y="745.13" width="4.6" height="4.6" fill="#1b4e89" />
<rect x="357.7" y="731.16" width="4.6" height="4.6" fill="#1b4e89" />
<rect x="384.1" y="725.83" width="4.6" height="4.6" fill="#1b4e89" />
<line x1="294.5" y1="678.7" x2="294.5" y2="758.1" stroke="#231f20" stroke-width="1" />
<line x1="294.2" y1="758.5" x2="396" y2="758.5" stroke="#231f20" stroke-width="1" />
<line x1="291.2" y1="758.5" x2="294.2" y2="758.5" stroke="#231f20" stroke-width="1" />
<text x="286.8" y="760.9" font-size="7.6" text-anchor="end" fill="#262626" stroke="#262626" stroke-width="0.18">0</text>
<line x1="291.2" y1="745.5" x2="294.2" y2="745.5" stroke="#231f20" stroke-width="1" />
<text x="286.8" y="748.2" font-size="7.6" text-anchor="end" fill="#262626" stroke="#262626" stroke-width="0.18">50</text>
<line x1="291.2" y1="732.5" x2="294.2" y2="732.5" stroke="#231f20" stroke-width="1" />
<text x="286.8" y="735.5" font-size="7.6" text-anchor="end" fill="#262626" stroke="#262626" stroke-width="0.18">100</text>
<line x1="291.2" y1="720.5" x2="294.2" y2="720.5" stroke="#231f20" stroke-width="1" />
<text x="286.8" y="722.8" font-size="7.6" text-anchor="end" fill="#262626" stroke="#262626" stroke-width="0.18">150</text>
<line x1="291.2" y1="707.5" x2="294.2" y2="707.5" stroke="#231f20" stroke-width="1" />
<text x="286.8" y="710.1" font-size="7.6" text-anchor="end" fill="#262626" stroke="#262626" stroke-width="0.18">200</text>
<line x1="291.2" y1="694.5" x2="294.2" y2="694.5" stroke="#231f20" stroke-width="1" />
<text x="286.8" y="697.4" font-size="7.6" text-anchor="end" fill="#262626" stroke="#262626" stroke-width="0.18">250</text>
<line x1="291.2" y1="681.5" x2="294.2" y2="681.5" stroke="#231f20" stroke-width="1" />
<text x="286.8" y="684.7" font-size="7.6" text-anchor="end" fill="#262626" stroke="#262626" stroke-width="0.18">300</text>
<line x1="294.5" y1="758.1" x2="294.5" y2="760.4" stroke="#231f20" stroke-width="0.8" />
<line x1="333.5" y1="758.1" x2="333.5" y2="760.4" stroke="#231f20" stroke-width="0.8" />
<line x1="360.5" y1="758.1" x2="360.5" y2="760.4" stroke="#231f20" stroke-width="0.8" />
<line x1="386.5" y1="758.1" x2="386.5" y2="760.4" stroke="#231f20" stroke-width="0.8" />
<text x="294" y="771.7" font-size="7.9" text-anchor="middle" fill="#262626" stroke="#262626" stroke-width="0.18">0</text>
<text x="333.6" y="771.7" font-size="7.9" text-anchor="middle" fill="#262626" stroke="#262626" stroke-width="0.18">3</text>
<text x="360" y="771.7" font-size="7.9" text-anchor="middle" fill="#262626" stroke="#262626" stroke-width="0.18">5</text>
<text x="386.4" y="771.7" font-size="7.9" text-anchor="middle" fill="#262626" stroke="#262626" stroke-width="0.18">7</text>
<text x="390.4" y="771.7" font-size="7.9" fill="#262626" stroke="#262626" stroke-width="0.18" textLength="15.5" lengthAdjust="spacingAndGlyphs">days</text>
<text x="389.8" y="715.4" font-size="8.4" fill="#262626" stroke="none">**</text>
<text x="389.8" y="732.2" font-size="8.4" fill="#262626" stroke="none">***</text>
<circle cx="301.7" cy="677.8" r="2.6" fill="#9a8fd0" />
<text x="309.8" y="680.8" font-size="7.9" fill="#262626" stroke="#262626" stroke-width="0.18" textLength="19.5" lengthAdjust="spacingAndGlyphs">shCtrl</text>
<rect x="299.4" y="685.3" width="4.6" height="4.6" fill="#1b4e89" />
<text x="309.8" y="690.5" font-size="7.9" fill="#262626" stroke="#262626" stroke-width="0.18" textLength="51.5" lengthAdjust="spacingAndGlyphs">shZDHHC21 #1</text>
<path d="M301.7 694.8 L304.4 699.5 L299 699.5 Z" fill="#3ba4dc" />
<text x="309.8" y="700.2" font-size="7.9" fill="#262626" stroke="#262626" stroke-width="0.18" textLength="51.5" lengthAdjust="spacingAndGlyphs">shZDHHC21 #2</text>
<text x="271.2" y="718.4" font-size="9.2" text-anchor="middle" fill="#262626" transform="rotate(-90 271.2 718.4)" textLength="76" lengthAdjust="spacingAndGlyphs">Cell number (1 × 10<tspan font-size="5.5" dy="-3">4</tspan><tspan dy="3">)</tspan></text>
<text x="410.8" y="663.8" font-size="13" fill="#000" font-weight="bold">L</text>
<rect x="423.8" y="671.2" width="6.2" height="6.2" fill="#e41f8c" />
<text x="433" y="677.2" font-size="8" fill="#262626" stroke="#262626" stroke-width="0.18" textLength="20.5" lengthAdjust="spacingAndGlyphs">G2/M</text>
<rect x="461.2" y="671.2" width="6.2" height="6.2" fill="#c9c9cb" />
<text x="469.6" y="677.2" font-size="8" fill="#262626" stroke="#262626" stroke-width="0.18">S</text>
<rect x="480" y="671.2" width="6.2" height="6.2" fill="#c8781e" />
<text x="488.8" y="677.2" font-size="8" fill="#262626" stroke="#262626" stroke-width="0.18" textLength="22.5" lengthAdjust="spacingAndGlyphs">G0/G1</text>
<rect x="461.2" y="732.8" width="10.8" height="25.2" fill="#c8781e" />
<rect x="461.2" y="703.4" width="10.8" height="29.4" fill="#c9c9cb" />
<rect x="461.2" y="688" width="10.8" height="15.4" fill="#e41f8c" />
<line x1="465.2" y1="733.6" x2="468" y2="733.6" stroke="#231f20" stroke-width="0.6" />
<line x1="465.2" y1="732" x2="468" y2="732" stroke="#231f20" stroke-width="0.6" />
<line x1="466.6" y1="732" x2="466.6" y2="733.6" stroke="#231f20" stroke-width="0.6" />
<line x1="465.2" y1="704.2" x2="468" y2="704.2" stroke="#231f20" stroke-width="0.6" />
<line x1="465.2" y1="702.6" x2="468" y2="702.6" stroke="#231f20" stroke-width="0.6" />
<line x1="466.6" y1="702.6" x2="466.6" y2="704.2" stroke="#231f20" stroke-width="0.6" />
<line x1="465.2" y1="688.8" x2="468" y2="688.8" stroke="#231f20" stroke-width="0.6" />
<line x1="465.2" y1="687.2" x2="468" y2="687.2" stroke="#231f20" stroke-width="0.6" />
<line x1="466.6" y1="687.2" x2="466.6" y2="688.8" stroke="#231f20" stroke-width="0.6" />
<rect x="476.2" y="709.35" width="10.8" height="48.65" fill="#c8781e" />
<rect x="476.2" y="696.05" width="10.8" height="13.3" fill="#c9c9cb" />
<rect x="476.2" y="688" width="10.8" height="8.05" fill="#e41f8c" />
<line x1="480.2" y1="710.15" x2="483" y2="710.15" stroke="#231f20" stroke-width="0.6" />
<line x1="480.2" y1="708.55" x2="483" y2="708.55" stroke="#231f20" stroke-width="0.6" />
<line x1="481.6" y1="708.55" x2="481.6" y2="710.15" stroke="#231f20" stroke-width="0.6" />
<line x1="480.2" y1="696.85" x2="483" y2="696.85" stroke="#231f20" stroke-width="0.6" />
<line x1="480.2" y1="695.25" x2="483" y2="695.25" stroke="#231f20" stroke-width="0.6" />
<line x1="481.6" y1="695.25" x2="481.6" y2="696.85" stroke="#231f20" stroke-width="0.6" />
<line x1="480.2" y1="688.8" x2="483" y2="688.8" stroke="#231f20" stroke-width="0.6" />
<line x1="480.2" y1="687.2" x2="483" y2="687.2" stroke="#231f20" stroke-width="0.6" />
<line x1="481.6" y1="687.2" x2="481.6" y2="688.8" stroke="#231f20" stroke-width="0.6" />
<rect x="490.5" y="718.1" width="10.8" height="39.9" fill="#c8781e" />
<rect x="490.5" y="700.6" width="10.8" height="17.5" fill="#c9c9cb" />
<rect x="490.5" y="688" width="10.8" height="12.6" fill="#e41f8c" />
<line x1="494.5" y1="718.9" x2="497.3" y2="718.9" stroke="#231f20" stroke-width="0.6" />
<line x1="494.5" y1="717.3" x2="497.3" y2="717.3" stroke="#231f20" stroke-width="0.6" />
<line x1="495.9" y1="717.3" x2="495.9" y2="718.9" stroke="#231f20" stroke-width="0.6" />
<line x1="494.5" y1="701.4" x2="497.3" y2="701.4" stroke="#231f20" stroke-width="0.6" />
<line x1="494.5" y1="699.8" x2="497.3" y2="699.8" stroke="#231f20" stroke-width="0.6" />
<line x1="495.9" y1="699.8" x2="495.9" y2="701.4" stroke="#231f20" stroke-width="0.6" />
<line x1="494.5" y1="688.8" x2="497.3" y2="688.8" stroke="#231f20" stroke-width="0.6" />
<line x1="494.5" y1="687.2" x2="497.3" y2="687.2" stroke="#231f20" stroke-width="0.6" />
<line x1="495.9" y1="687.2" x2="495.9" y2="688.8" stroke="#231f20" stroke-width="0.6" />
<text x="481.6" y="708.3" font-size="7.8" text-anchor="middle" fill="#1e2a5a" stroke="none">***</text>
<text x="495.9" y="717.6" font-size="7.8" text-anchor="middle" fill="#1e2a5a" stroke="none">***</text>
<line x1="456.5" y1="681.3" x2="456.5" y2="758" stroke="#231f20" stroke-width="1" />
<line x1="456.3" y1="758.5" x2="510.6" y2="758.5" stroke="#231f20" stroke-width="1" />
<line x1="453.3" y1="758.5" x2="456.3" y2="758.5" stroke="#231f20" stroke-width="1" />
<text x="450.6" y="760.9" font-size="8" text-anchor="end" fill="#262626" stroke="#262626" stroke-width="0.18">0</text>
<line x1="453.3" y1="723.5" x2="456.3" y2="723.5" stroke="#231f20" stroke-width="1" />
<text x="450.6" y="725.9" font-size="8" text-anchor="end" fill="#262626" stroke="#262626" stroke-width="0.18">50</text>
<line x1="453.3" y1="688.5" x2="456.3" y2="688.5" stroke="#231f20" stroke-width="1" />
<text x="450.6" y="690.9" font-size="8" text-anchor="end" fill="#262626" stroke="#262626" stroke-width="0.18">100</text>
<line x1="466.5" y1="758" x2="466.5" y2="760.3" stroke="#231f20" stroke-width="0.8" />
<line x1="481.5" y1="758" x2="481.5" y2="760.3" stroke="#231f20" stroke-width="0.8" />
<line x1="495.5" y1="758" x2="495.5" y2="760.3" stroke="#231f20" stroke-width="0.8" />
<text x="469.6" y="765.6" font-size="6.9" text-anchor="end" fill="#262626" stroke="#262626" stroke-width="0.18" transform="rotate(-45 469.6 765.6)">shCtrl</text>
<text x="483.6" y="767" font-size="6.9" text-anchor="end" fill="#262626" stroke="#262626" stroke-width="0.18" transform="rotate(-45 483.6 767)">#1</text>
<text x="497.9" y="767" font-size="6.9" text-anchor="end" fill="#262626" stroke="#262626" stroke-width="0.18" transform="rotate(-45 497.9 767)">#2</text>
<line x1="475.6" y1="773.5" x2="501.3" y2="773.5" stroke="#231f20" stroke-width="1" />
<text x="488.4" y="783.2" font-size="7.9" text-anchor="middle" fill="#262626" stroke="#262626" stroke-width="0.18" textLength="40.5" lengthAdjust="spacingAndGlyphs">shZDHHC21</text>
<text x="430.31" y="726" font-size="9.2" text-anchor="middle" fill="#262626" stroke="#262626" stroke-width="0.18" textLength="65" lengthAdjust="spacingAndGlyphs" transform="rotate(-90 430.31 726)">Cell cycle phases (%)</text>
<rect x="0.5" y="0.5" width="519" height="792" fill="none" stroke="#3a3a3a" stroke-width="1.2" /></g></svg></body></html>
